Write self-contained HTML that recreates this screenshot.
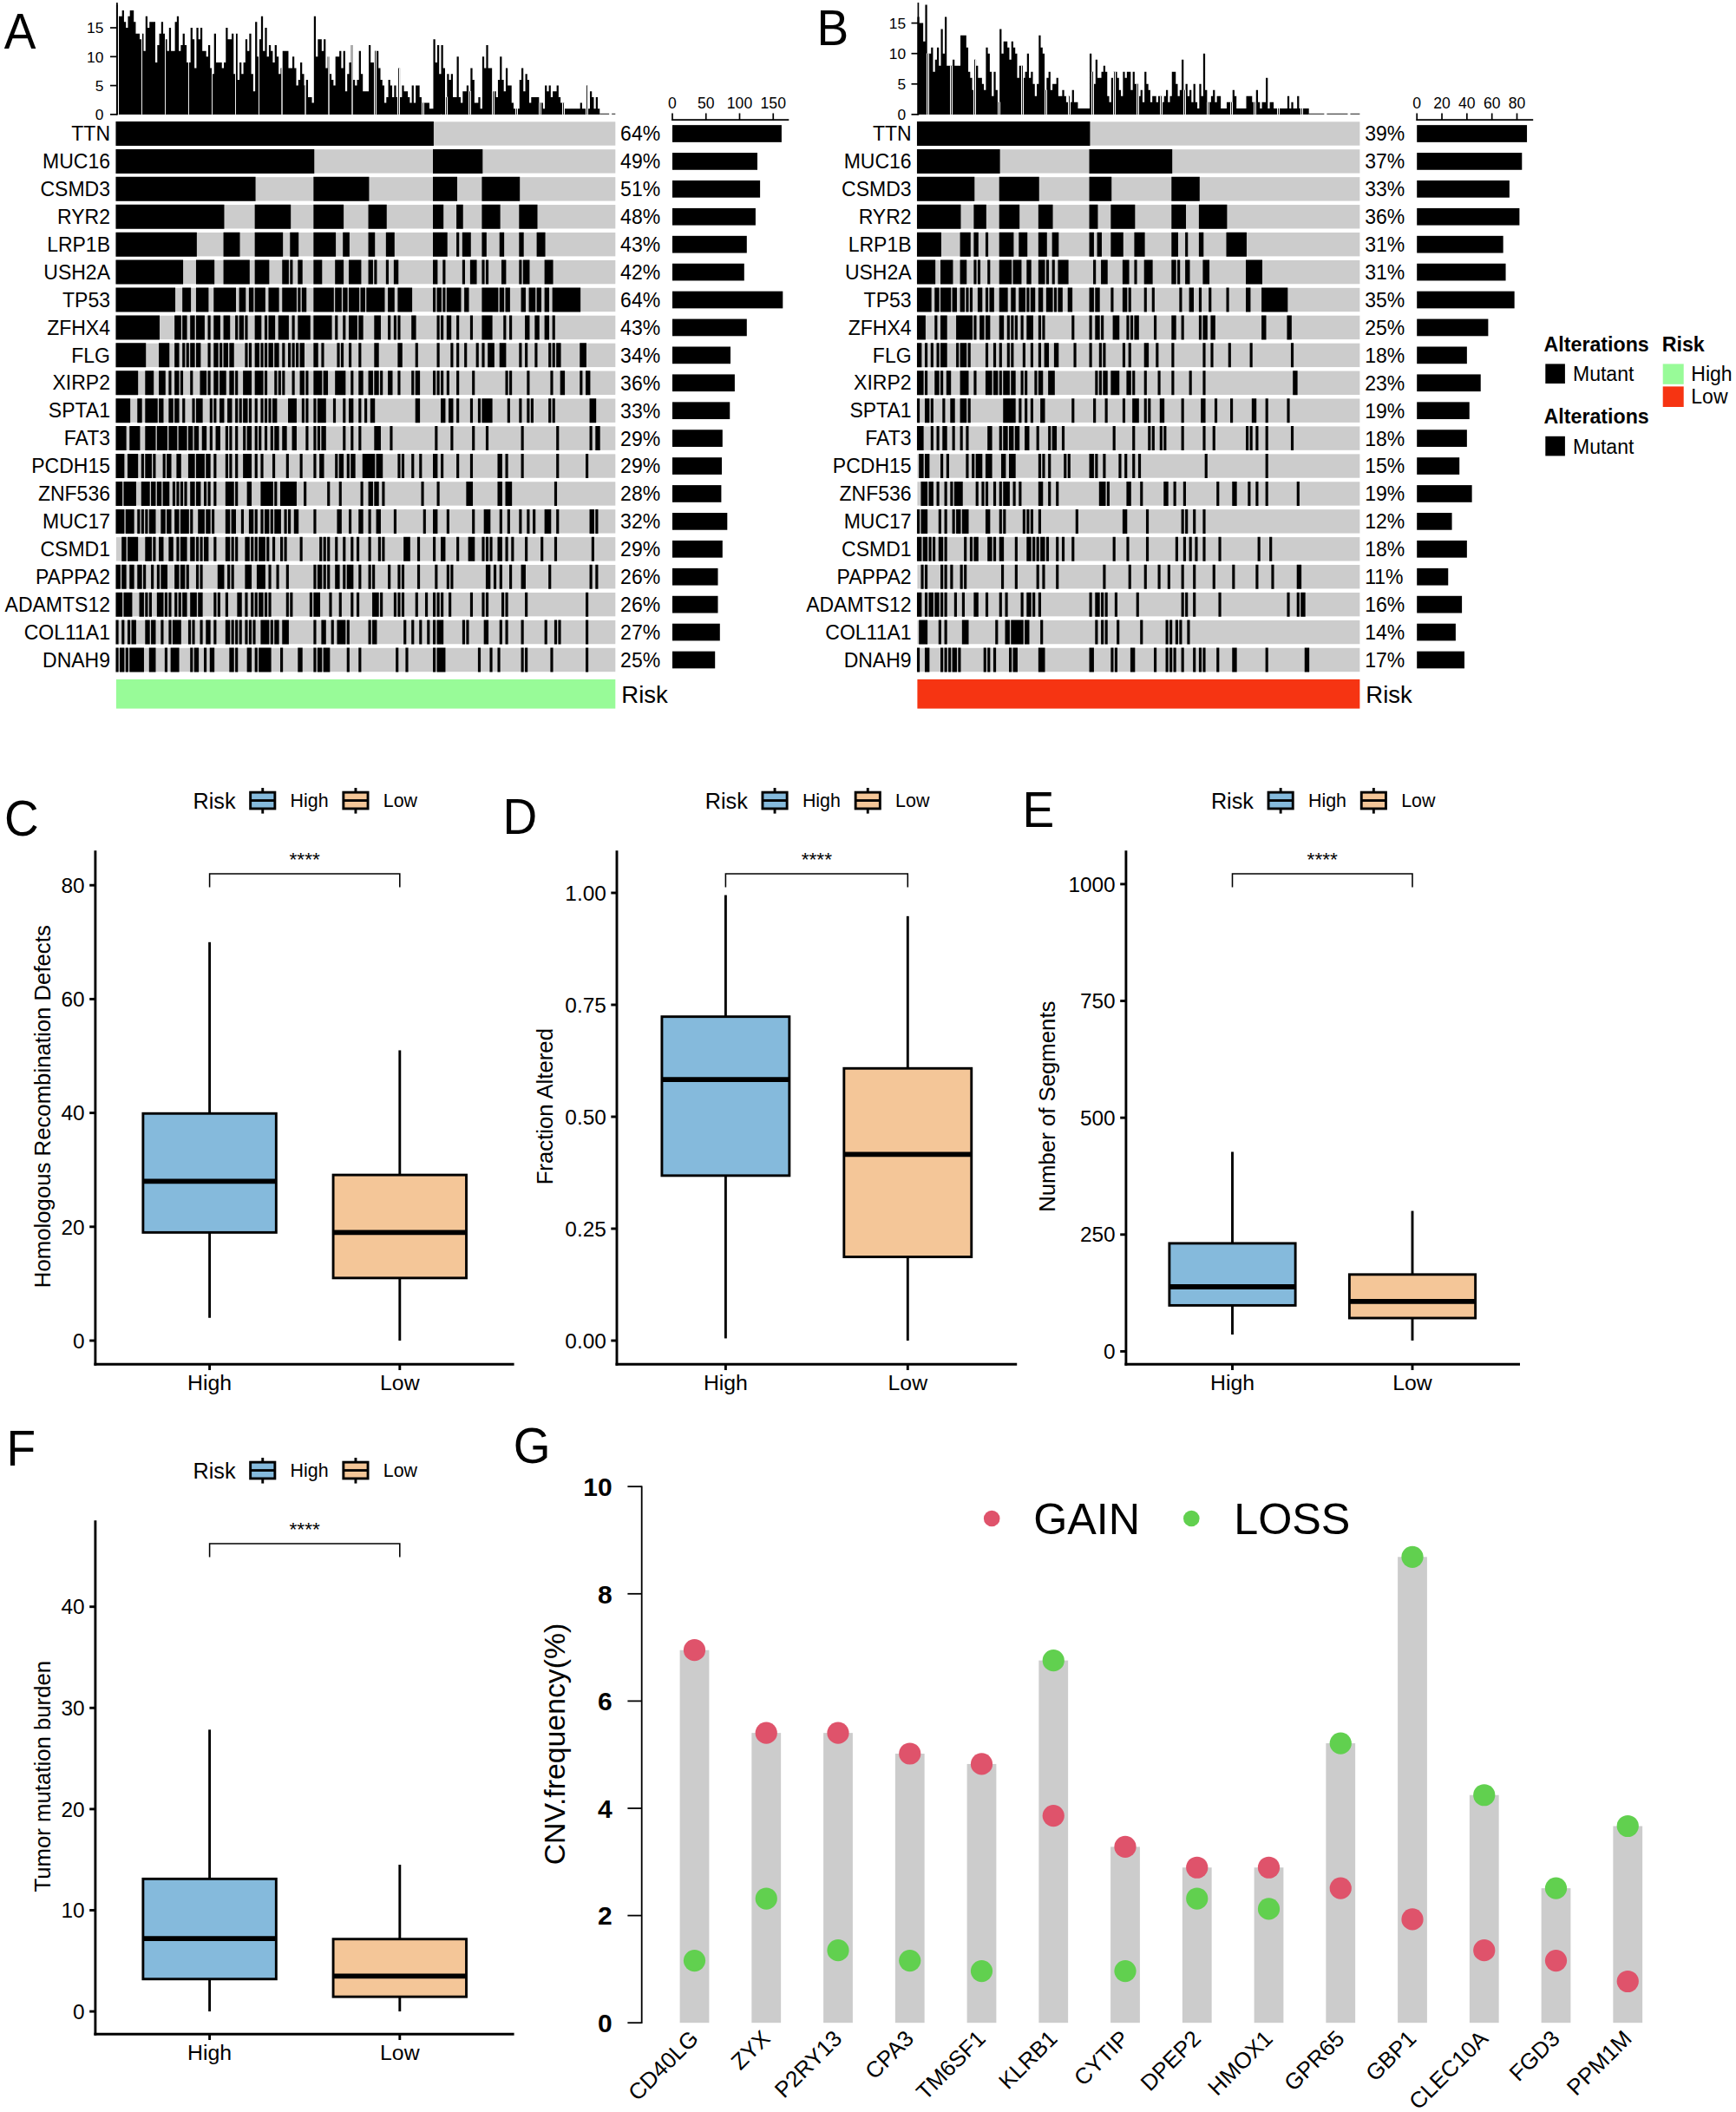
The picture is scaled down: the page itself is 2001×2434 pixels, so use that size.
<!DOCTYPE html>
<html><head><meta charset="utf-8"><title>Figure</title>
<style>html,body{margin:0;padding:0;background:#fff}svg{display:block}text{font-family:"Liberation Sans", Arial, sans-serif;fill:#000}</style>
</head><body>
<svg width="2001" height="2434" viewBox="0 0 2001 2434">
<rect width="2001" height="2434" fill="#fff"/>
<text transform="translate(4.70 56.20) scale(0.965 1)" font-size="57">A</text>
<g>
<rect x="133.90" y="140.30" width="575.41" height="27.40" fill="#cccccc"/>
<path d="M133.45 140.00h366.45v28.0h-366.45z" fill="#000"/>
<text x="127.00" y="162.20" font-size="23" text-anchor="end">TTN</text>
<text x="715.11" y="162.40" font-size="23">64%</text>
<rect x="775.00" y="144.15" width="125.90" height="19.70" fill="#000"/>
<rect x="133.90" y="172.22" width="575.41" height="27.40" fill="#cccccc"/>
<path d="M133.45 171.92h228.81v28.0h-228.81zM499.00 171.92h57.31v28.0h-57.31z" fill="#000"/>
<text x="127.00" y="194.12" font-size="23" text-anchor="end">MUC16</text>
<text x="715.11" y="194.32" font-size="23">49%</text>
<rect x="775.00" y="176.07" width="98.00" height="19.70" fill="#000"/>
<rect x="133.90" y="204.14" width="575.41" height="27.40" fill="#cccccc"/>
<path d="M133.45 203.84h161.11v28.0h-161.11zM361.36 203.84h64.08v28.0h-64.08zM499.00 203.84h27.98v28.0h-27.98zM555.42 203.84h43.77v28.0h-43.77z" fill="#000"/>
<text x="127.00" y="226.04" font-size="23" text-anchor="end">CSMD3</text>
<text x="715.11" y="226.24" font-size="23">51%</text>
<rect x="775.00" y="207.99" width="101.10" height="19.70" fill="#000"/>
<rect x="133.90" y="236.06" width="575.41" height="27.40" fill="#cccccc"/>
<path d="M133.45 235.76h125.01v28.0h-125.01zM293.66 235.76h41.52v28.0h-41.52zM361.36 235.76h34.75v28.0h-34.75zM424.54 235.76h21.21v28.0h-21.21zM499.00 235.76h12.18v28.0h-12.18zM526.08 235.76h7.67v28.0h-7.67zM555.42 235.76h21.21v28.0h-21.21zM598.29 235.76h21.21v28.0h-21.21z" fill="#000"/>
<text x="127.00" y="257.96" font-size="23" text-anchor="end">RYR2</text>
<text x="715.11" y="258.16" font-size="23">48%</text>
<rect x="775.00" y="239.91" width="95.90" height="19.70" fill="#000"/>
<rect x="133.90" y="267.98" width="575.41" height="27.40" fill="#cccccc"/>
<path d="M133.45 267.68h93.42v28.0h-93.42zM257.56 267.68h18.95v28.0h-18.95zM293.66 267.68h32.49v28.0h-32.49zM334.28 267.68h9.93v28.0h-9.93zM361.36 267.68h25.72v28.0h-25.72zM395.20 267.68h7.67v28.0h-7.67zM424.54 267.68h7.67v28.0h-7.67zM444.85 267.68h9.93v28.0h-9.93zM499.00 267.68h16.70v28.0h-16.70zM526.08 267.68h3.16v28.0h-3.16zM532.85 267.68h9.93v28.0h-9.93zM555.42 267.68h5.41v28.0h-5.41zM575.72 267.68h5.41v28.0h-5.41zM598.29 267.68h5.41v28.0h-5.41zM618.60 267.68h9.93v28.0h-9.93z" fill="#000"/>
<text x="127.00" y="289.88" font-size="23" text-anchor="end">LRP1B</text>
<text x="715.11" y="290.08" font-size="23">43%</text>
<rect x="775.00" y="271.83" width="85.80" height="19.70" fill="#000"/>
<rect x="133.90" y="299.90" width="575.41" height="27.40" fill="#cccccc"/>
<path d="M133.45 299.60h77.62v28.0h-77.62zM225.97 299.60h21.21v28.0h-21.21zM257.56 299.60h30.23v28.0h-30.23zM293.66 299.60h16.70v28.0h-16.70zM325.25 299.60h7.67v28.0h-7.67zM334.28 299.60h3.16v28.0h-3.16zM343.30 299.60h5.41v28.0h-5.41zM361.36 299.60h9.93v28.0h-9.93zM386.18 299.60h9.93v28.0h-9.93zM401.97 299.60h14.44v28.0h-14.44zM424.54 299.60h5.41v28.0h-5.41zM431.31 299.60h3.16v28.0h-3.16zM444.85 299.60h3.16v28.0h-3.16zM453.87 299.60h5.41v28.0h-5.41zM499.00 299.60h5.41v28.0h-5.41zM510.29 299.60h3.16v28.0h-3.16zM532.85 299.60h3.16v28.0h-3.16zM541.88 299.60h7.67v28.0h-7.67zM555.42 299.60h3.16v28.0h-3.16zM559.93 299.60h3.16v28.0h-3.16zM577.98 299.60h5.41v28.0h-5.41zM598.29 299.60h3.16v28.0h-3.16zM602.80 299.60h7.67v28.0h-7.67zM627.62 299.60h9.93v28.0h-9.93z" fill="#000"/>
<text x="127.00" y="321.80" font-size="23" text-anchor="end">USH2A</text>
<text x="715.11" y="322.00" font-size="23">42%</text>
<rect x="775.00" y="303.75" width="82.80" height="19.70" fill="#000"/>
<rect x="133.90" y="331.82" width="575.41" height="27.40" fill="#cccccc"/>
<path d="M133.45 331.52h68.59v28.0h-68.59zM210.17 331.52h9.93v28.0h-9.93zM225.97 331.52h14.44v28.0h-14.44zM246.28 331.52h25.72v28.0h-25.72zM275.61 331.52h7.67v28.0h-7.67zM286.89 331.52h5.41v28.0h-5.41zM293.66 331.52h12.18v28.0h-12.18zM309.46 331.52h12.18v28.0h-12.18zM325.25 331.52h16.70v28.0h-16.70zM343.30 331.52h3.16v28.0h-3.16zM347.82 331.52h5.41v28.0h-5.41zM361.36 331.52h23.46v28.0h-23.46zM386.18 331.52h7.67v28.0h-7.67zM395.20 331.52h5.41v28.0h-5.41zM401.97 331.52h12.18v28.0h-12.18zM415.51 331.52h5.41v28.0h-5.41zM422.28 331.52h21.21v28.0h-21.21zM447.10 331.52h7.67v28.0h-7.67zM458.39 331.52h16.70v28.0h-16.70zM499.00 331.52h3.16v28.0h-3.16zM503.52 331.52h5.41v28.0h-5.41zM510.29 331.52h3.16v28.0h-3.16zM514.80 331.52h16.70v28.0h-16.70zM535.11 331.52h5.41v28.0h-5.41zM555.42 331.52h18.95v28.0h-18.95zM575.72 331.52h5.41v28.0h-5.41zM582.49 331.52h5.41v28.0h-5.41zM600.55 331.52h5.41v28.0h-5.41zM609.57 331.52h7.67v28.0h-7.67zM618.60 331.52h5.41v28.0h-5.41zM627.62 331.52h5.41v28.0h-5.41zM636.65 331.52h32.49v28.0h-32.49z" fill="#000"/>
<text x="127.00" y="353.72" font-size="23" text-anchor="end">TP53</text>
<text x="715.11" y="353.92" font-size="23">64%</text>
<rect x="775.00" y="335.67" width="127.30" height="19.70" fill="#000"/>
<rect x="133.90" y="363.74" width="575.41" height="27.40" fill="#cccccc"/>
<path d="M133.45 363.44h50.54v28.0h-50.54zM201.15 363.44h7.67v28.0h-7.67zM210.17 363.44h5.41v28.0h-5.41zM219.20 363.44h5.41v28.0h-5.41zM225.97 363.44h9.93v28.0h-9.93zM239.51 363.44h3.16v28.0h-3.16zM246.28 363.44h7.67v28.0h-7.67zM257.56 363.44h7.67v28.0h-7.67zM271.10 363.44h3.16v28.0h-3.16zM275.61 363.44h5.41v28.0h-5.41zM282.38 363.44h3.16v28.0h-3.16zM293.66 363.44h7.67v28.0h-7.67zM304.94 363.44h3.16v28.0h-3.16zM309.46 363.44h7.67v28.0h-7.67zM320.74 363.44h12.18v28.0h-12.18zM336.54 363.44h3.16v28.0h-3.16zM343.30 363.44h14.44v28.0h-14.44zM361.36 363.44h21.21v28.0h-21.21zM386.18 363.44h3.16v28.0h-3.16zM395.20 363.44h3.16v28.0h-3.16zM401.97 363.44h9.93v28.0h-9.93zM413.26 363.44h5.41v28.0h-5.41zM431.31 363.44h7.67v28.0h-7.67zM447.10 363.44h3.16v28.0h-3.16zM453.87 363.44h3.16v28.0h-3.16zM458.39 363.44h3.16v28.0h-3.16zM474.18 363.44h5.41v28.0h-5.41zM503.52 363.44h3.16v28.0h-3.16zM508.03 363.44h3.16v28.0h-3.16zM514.80 363.44h5.41v28.0h-5.41zM526.08 363.44h3.16v28.0h-3.16zM541.88 363.44h3.16v28.0h-3.16zM555.42 363.44h12.18v28.0h-12.18zM580.24 363.44h3.16v28.0h-3.16zM587.01 363.44h3.16v28.0h-3.16zM605.06 363.44h5.41v28.0h-5.41zM616.34 363.44h5.41v28.0h-5.41zM627.62 363.44h5.41v28.0h-5.41zM636.65 363.44h3.16v28.0h-3.16z" fill="#000"/>
<text x="127.00" y="385.64" font-size="23" text-anchor="end">ZFHX4</text>
<text x="715.11" y="385.84" font-size="23">43%</text>
<rect x="775.00" y="367.59" width="85.80" height="19.70" fill="#000"/>
<rect x="133.90" y="395.66" width="575.41" height="27.40" fill="#cccccc"/>
<path d="M133.45 395.36h34.75v28.0h-34.75zM183.09 395.36h12.18v28.0h-12.18zM201.15 395.36h5.41v28.0h-5.41zM210.17 395.36h3.16v28.0h-3.16zM214.68 395.36h3.16v28.0h-3.16zM219.20 395.36h5.41v28.0h-5.41zM225.97 395.36h5.41v28.0h-5.41zM239.51 395.36h3.16v28.0h-3.16zM246.28 395.36h5.41v28.0h-5.41zM253.04 395.36h3.16v28.0h-3.16zM257.56 395.36h5.41v28.0h-5.41zM264.33 395.36h5.41v28.0h-5.41zM282.38 395.36h3.16v28.0h-3.16zM286.89 395.36h3.16v28.0h-3.16zM293.66 395.36h5.41v28.0h-5.41zM300.43 395.36h3.16v28.0h-3.16zM304.94 395.36h3.16v28.0h-3.16zM309.46 395.36h5.41v28.0h-5.41zM316.23 395.36h5.41v28.0h-5.41zM325.25 395.36h3.16v28.0h-3.16zM332.02 395.36h3.16v28.0h-3.16zM336.54 395.36h3.16v28.0h-3.16zM341.05 395.36h3.16v28.0h-3.16zM345.56 395.36h5.41v28.0h-5.41zM361.36 395.36h5.41v28.0h-5.41zM370.38 395.36h3.16v28.0h-3.16zM388.43 395.36h3.16v28.0h-3.16zM392.95 395.36h3.16v28.0h-3.16zM401.97 395.36h3.16v28.0h-3.16zM413.26 395.36h3.16v28.0h-3.16zM431.31 395.36h5.41v28.0h-5.41zM458.39 395.36h5.41v28.0h-5.41zM478.69 395.36h3.16v28.0h-3.16zM503.52 395.36h3.16v28.0h-3.16zM519.31 395.36h3.16v28.0h-3.16zM526.08 395.36h3.16v28.0h-3.16zM535.11 395.36h3.16v28.0h-3.16zM548.65 395.36h3.16v28.0h-3.16zM555.42 395.36h3.16v28.0h-3.16zM562.18 395.36h7.67v28.0h-7.67zM575.72 395.36h7.67v28.0h-7.67zM598.29 395.36h3.16v28.0h-3.16zM605.06 395.36h3.16v28.0h-3.16zM616.34 395.36h3.16v28.0h-3.16zM632.14 395.36h3.16v28.0h-3.16zM636.65 395.36h3.16v28.0h-3.16zM641.16 395.36h5.41v28.0h-5.41zM668.24 395.36h7.67v28.0h-7.67z" fill="#000"/>
<text x="127.00" y="417.56" font-size="23" text-anchor="end">FLG</text>
<text x="715.11" y="417.76" font-size="23">34%</text>
<rect x="775.00" y="399.51" width="67.00" height="19.70" fill="#000"/>
<rect x="133.90" y="427.58" width="575.41" height="27.40" fill="#cccccc"/>
<path d="M133.45 427.28h25.72v28.0h-25.72zM167.30 427.28h9.93v28.0h-9.93zM183.09 427.28h7.67v28.0h-7.67zM194.38 427.28h3.16v28.0h-3.16zM201.15 427.28h5.41v28.0h-5.41zM207.91 427.28h3.16v28.0h-3.16zM219.20 427.28h3.16v28.0h-3.16zM230.48 427.28h7.67v28.0h-7.67zM239.51 427.28h3.16v28.0h-3.16zM246.28 427.28h5.41v28.0h-5.41zM253.04 427.28h7.67v28.0h-7.67zM264.33 427.28h5.41v28.0h-5.41zM271.10 427.28h3.16v28.0h-3.16zM280.12 427.28h9.93v28.0h-9.93zM293.66 427.28h9.93v28.0h-9.93zM304.94 427.28h3.16v28.0h-3.16zM316.23 427.28h3.16v28.0h-3.16zM320.74 427.28h3.16v28.0h-3.16zM325.25 427.28h3.16v28.0h-3.16zM336.54 427.28h3.16v28.0h-3.16zM345.56 427.28h5.41v28.0h-5.41zM352.33 427.28h3.16v28.0h-3.16zM361.36 427.28h9.93v28.0h-9.93zM372.64 427.28h5.41v28.0h-5.41zM386.18 427.28h12.18v28.0h-12.18zM404.23 427.28h3.16v28.0h-3.16zM413.26 427.28h5.41v28.0h-5.41zM424.54 427.28h5.41v28.0h-5.41zM431.31 427.28h5.41v28.0h-5.41zM438.08 427.28h3.16v28.0h-3.16zM447.10 427.28h5.41v28.0h-5.41zM458.39 427.28h3.16v28.0h-3.16zM474.18 427.28h3.16v28.0h-3.16zM478.69 427.28h5.41v28.0h-5.41zM499.00 427.28h3.16v28.0h-3.16zM503.52 427.28h3.16v28.0h-3.16zM508.03 427.28h3.16v28.0h-3.16zM514.80 427.28h3.16v28.0h-3.16zM526.08 427.28h3.16v28.0h-3.16zM544.13 427.28h3.16v28.0h-3.16zM582.49 427.28h3.16v28.0h-3.16zM587.01 427.28h3.16v28.0h-3.16zM607.31 427.28h3.16v28.0h-3.16zM634.39 427.28h3.16v28.0h-3.16zM645.68 427.28h5.41v28.0h-5.41zM668.24 427.28h3.16v28.0h-3.16zM675.01 427.28h5.41v28.0h-5.41z" fill="#000"/>
<text x="127.00" y="449.48" font-size="23" text-anchor="end">XIRP2</text>
<text x="715.11" y="449.68" font-size="23">36%</text>
<rect x="775.00" y="431.43" width="71.90" height="19.70" fill="#000"/>
<rect x="133.90" y="459.50" width="575.41" height="27.40" fill="#cccccc"/>
<path d="M133.45 459.20h16.70v28.0h-16.70zM158.27 459.20h5.41v28.0h-5.41zM167.30 459.20h14.44v28.0h-14.44zM183.09 459.20h5.41v28.0h-5.41zM194.38 459.20h5.41v28.0h-5.41zM201.15 459.20h5.41v28.0h-5.41zM210.17 459.20h3.16v28.0h-3.16zM221.45 459.20h3.16v28.0h-3.16zM225.97 459.20h7.67v28.0h-7.67zM241.76 459.20h3.16v28.0h-3.16zM246.28 459.20h3.16v28.0h-3.16zM253.04 459.20h5.41v28.0h-5.41zM262.07 459.20h5.41v28.0h-5.41zM271.10 459.20h3.16v28.0h-3.16zM275.61 459.20h3.16v28.0h-3.16zM280.12 459.20h5.41v28.0h-5.41zM286.89 459.20h3.16v28.0h-3.16zM293.66 459.20h3.16v28.0h-3.16zM300.43 459.20h3.16v28.0h-3.16zM304.94 459.20h3.16v28.0h-3.16zM309.46 459.20h3.16v28.0h-3.16zM313.97 459.20h5.41v28.0h-5.41zM332.02 459.20h9.93v28.0h-9.93zM347.82 459.20h3.16v28.0h-3.16zM352.33 459.20h3.16v28.0h-3.16zM361.36 459.20h3.16v28.0h-3.16zM365.87 459.20h9.93v28.0h-9.93zM383.92 459.20h3.16v28.0h-3.16zM395.20 459.20h3.16v28.0h-3.16zM401.97 459.20h5.41v28.0h-5.41zM413.26 459.20h3.16v28.0h-3.16zM420.03 459.20h3.16v28.0h-3.16zM426.80 459.20h5.41v28.0h-5.41zM478.69 459.20h5.41v28.0h-5.41zM508.03 459.20h5.41v28.0h-5.41zM517.05 459.20h5.41v28.0h-5.41zM526.08 459.20h3.16v28.0h-3.16zM541.88 459.20h3.16v28.0h-3.16zM550.90 459.20h3.16v28.0h-3.16zM555.42 459.20h12.18v28.0h-12.18zM584.75 459.20h3.16v28.0h-3.16zM598.29 459.20h3.16v28.0h-3.16zM607.31 459.20h3.16v28.0h-3.16zM611.83 459.20h3.16v28.0h-3.16zM632.14 459.20h3.16v28.0h-3.16zM636.65 459.20h3.16v28.0h-3.16zM679.52 459.20h7.67v28.0h-7.67z" fill="#000"/>
<text x="127.00" y="481.40" font-size="23" text-anchor="end">SPTA1</text>
<text x="715.11" y="481.60" font-size="23">33%</text>
<rect x="775.00" y="463.35" width="66.25" height="19.70" fill="#000"/>
<rect x="133.90" y="491.42" width="575.41" height="27.40" fill="#cccccc"/>
<path d="M133.45 491.12h12.18v28.0h-12.18zM149.25 491.12h12.18v28.0h-12.18zM167.30 491.12h12.18v28.0h-12.18zM180.84 491.12h12.18v28.0h-12.18zM194.38 491.12h9.93v28.0h-9.93zM205.66 491.12h9.93v28.0h-9.93zM216.94 491.12h5.41v28.0h-5.41zM223.71 491.12h5.41v28.0h-5.41zM232.74 491.12h5.41v28.0h-5.41zM241.76 491.12h3.16v28.0h-3.16zM248.53 491.12h5.41v28.0h-5.41zM259.81 491.12h3.16v28.0h-3.16zM264.33 491.12h3.16v28.0h-3.16zM271.10 491.12h3.16v28.0h-3.16zM280.12 491.12h3.16v28.0h-3.16zM284.64 491.12h5.41v28.0h-5.41zM293.66 491.12h3.16v28.0h-3.16zM298.17 491.12h3.16v28.0h-3.16zM304.94 491.12h3.16v28.0h-3.16zM311.71 491.12h3.16v28.0h-3.16zM316.23 491.12h5.41v28.0h-5.41zM325.25 491.12h5.41v28.0h-5.41zM336.54 491.12h5.41v28.0h-5.41zM352.33 491.12h3.16v28.0h-3.16zM361.36 491.12h3.16v28.0h-3.16zM365.87 491.12h3.16v28.0h-3.16zM370.38 491.12h5.41v28.0h-5.41zM395.20 491.12h3.16v28.0h-3.16zM404.23 491.12h3.16v28.0h-3.16zM413.26 491.12h3.16v28.0h-3.16zM431.31 491.12h7.67v28.0h-7.67zM449.36 491.12h3.16v28.0h-3.16zM501.26 491.12h3.16v28.0h-3.16zM519.31 491.12h3.16v28.0h-3.16zM544.13 491.12h3.16v28.0h-3.16zM559.93 491.12h3.16v28.0h-3.16zM600.55 491.12h3.16v28.0h-3.16zM641.16 491.12h3.16v28.0h-3.16zM679.52 491.12h3.16v28.0h-3.16zM686.29 491.12h5.41v28.0h-5.41z" fill="#000"/>
<text x="127.00" y="513.32" font-size="23" text-anchor="end">FAT3</text>
<text x="715.11" y="513.52" font-size="23">29%</text>
<rect x="775.00" y="495.27" width="57.80" height="19.70" fill="#000"/>
<rect x="133.90" y="523.34" width="575.41" height="27.40" fill="#cccccc"/>
<path d="M133.45 523.04h9.93v28.0h-9.93zM146.99 523.04h12.18v28.0h-12.18zM162.78 523.04h3.16v28.0h-3.16zM167.30 523.04h7.67v28.0h-7.67zM176.32 523.04h3.16v28.0h-3.16zM187.61 523.04h3.16v28.0h-3.16zM192.12 523.04h5.41v28.0h-5.41zM203.40 523.04h5.41v28.0h-5.41zM216.94 523.04h7.67v28.0h-7.67zM225.97 523.04h9.93v28.0h-9.93zM237.25 523.04h5.41v28.0h-5.41zM246.28 523.04h3.16v28.0h-3.16zM259.81 523.04h3.16v28.0h-3.16zM264.33 523.04h3.16v28.0h-3.16zM271.10 523.04h3.16v28.0h-3.16zM280.12 523.04h9.93v28.0h-9.93zM293.66 523.04h3.16v28.0h-3.16zM300.43 523.04h3.16v28.0h-3.16zM313.97 523.04h3.16v28.0h-3.16zM329.77 523.04h3.16v28.0h-3.16zM345.56 523.04h3.16v28.0h-3.16zM361.36 523.04h3.16v28.0h-3.16zM368.13 523.04h5.41v28.0h-5.41zM386.18 523.04h3.16v28.0h-3.16zM390.69 523.04h5.41v28.0h-5.41zM399.72 523.04h3.16v28.0h-3.16zM404.23 523.04h5.41v28.0h-5.41zM417.77 523.04h14.44v28.0h-14.44zM433.56 523.04h7.67v28.0h-7.67zM458.39 523.04h3.16v28.0h-3.16zM462.90 523.04h3.16v28.0h-3.16zM474.18 523.04h3.16v28.0h-3.16zM483.21 523.04h3.16v28.0h-3.16zM499.00 523.04h5.41v28.0h-5.41zM508.03 523.04h3.16v28.0h-3.16zM526.08 523.04h3.16v28.0h-3.16zM541.88 523.04h3.16v28.0h-3.16zM573.47 523.04h5.41v28.0h-5.41zM582.49 523.04h3.16v28.0h-3.16zM600.55 523.04h3.16v28.0h-3.16zM641.16 523.04h3.16v28.0h-3.16zM675.01 523.04h3.16v28.0h-3.16z" fill="#000"/>
<text x="127.00" y="545.24" font-size="23" text-anchor="end">PCDH15</text>
<text x="715.11" y="545.44" font-size="23">29%</text>
<rect x="775.00" y="527.19" width="57.00" height="19.70" fill="#000"/>
<rect x="133.90" y="555.26" width="575.41" height="27.40" fill="#cccccc"/>
<path d="M133.45 554.96h7.67v28.0h-7.67zM142.48 554.96h14.44v28.0h-14.44zM162.78 554.96h9.93v28.0h-9.93zM174.07 554.96h5.41v28.0h-5.41zM180.84 554.96h5.41v28.0h-5.41zM187.61 554.96h7.67v28.0h-7.67zM198.89 554.96h3.16v28.0h-3.16zM203.40 554.96h3.16v28.0h-3.16zM207.91 554.96h3.16v28.0h-3.16zM212.43 554.96h3.16v28.0h-3.16zM219.20 554.96h5.41v28.0h-5.41zM225.97 554.96h5.41v28.0h-5.41zM234.99 554.96h3.16v28.0h-3.16zM239.51 554.96h3.16v28.0h-3.16zM246.28 554.96h3.16v28.0h-3.16zM259.81 554.96h9.93v28.0h-9.93zM271.10 554.96h3.16v28.0h-3.16zM284.64 554.96h5.41v28.0h-5.41zM300.43 554.96h14.44v28.0h-14.44zM316.23 554.96h3.16v28.0h-3.16zM323.00 554.96h18.95v28.0h-18.95zM350.07 554.96h3.16v28.0h-3.16zM377.15 554.96h3.16v28.0h-3.16zM390.69 554.96h3.16v28.0h-3.16zM415.51 554.96h3.16v28.0h-3.16zM424.54 554.96h5.41v28.0h-5.41zM431.31 554.96h5.41v28.0h-5.41zM440.33 554.96h3.16v28.0h-3.16zM485.46 554.96h3.16v28.0h-3.16zM503.52 554.96h3.16v28.0h-3.16zM537.36 554.96h7.67v28.0h-7.67zM573.47 554.96h5.41v28.0h-5.41zM582.49 554.96h7.67v28.0h-7.67zM638.91 554.96h3.16v28.0h-3.16z" fill="#000"/>
<text x="127.00" y="577.16" font-size="23" text-anchor="end">ZNF536</text>
<text x="715.11" y="577.36" font-size="23">28%</text>
<rect x="775.00" y="559.11" width="56.40" height="19.70" fill="#000"/>
<rect x="133.90" y="587.18" width="575.41" height="27.40" fill="#cccccc"/>
<path d="M133.45 586.88h9.93v28.0h-9.93zM144.73 586.88h9.93v28.0h-9.93zM158.27 586.88h3.16v28.0h-3.16zM162.78 586.88h3.16v28.0h-3.16zM167.30 586.88h3.16v28.0h-3.16zM171.81 586.88h7.67v28.0h-7.67zM185.35 586.88h5.41v28.0h-5.41zM192.12 586.88h5.41v28.0h-5.41zM201.15 586.88h5.41v28.0h-5.41zM207.91 586.88h9.93v28.0h-9.93zM219.20 586.88h3.16v28.0h-3.16zM228.22 586.88h7.67v28.0h-7.67zM237.25 586.88h5.41v28.0h-5.41zM244.02 586.88h3.16v28.0h-3.16zM259.81 586.88h5.41v28.0h-5.41zM266.58 586.88h5.41v28.0h-5.41zM277.87 586.88h3.16v28.0h-3.16zM286.89 586.88h5.41v28.0h-5.41zM293.66 586.88h3.16v28.0h-3.16zM300.43 586.88h3.16v28.0h-3.16zM304.94 586.88h5.41v28.0h-5.41zM311.71 586.88h3.16v28.0h-3.16zM316.23 586.88h7.67v28.0h-7.67zM327.51 586.88h3.16v28.0h-3.16zM332.02 586.88h3.16v28.0h-3.16zM338.79 586.88h5.41v28.0h-5.41zM361.36 586.88h3.16v28.0h-3.16zM388.43 586.88h5.41v28.0h-5.41zM401.97 586.88h3.16v28.0h-3.16zM413.26 586.88h5.41v28.0h-5.41zM424.54 586.88h3.16v28.0h-3.16zM433.56 586.88h5.41v28.0h-5.41zM453.87 586.88h3.16v28.0h-3.16zM487.72 586.88h3.16v28.0h-3.16zM499.00 586.88h5.41v28.0h-5.41zM514.80 586.88h3.16v28.0h-3.16zM544.13 586.88h3.16v28.0h-3.16zM557.67 586.88h7.67v28.0h-7.67zM575.72 586.88h3.16v28.0h-3.16zM584.75 586.88h3.16v28.0h-3.16zM598.29 586.88h3.16v28.0h-3.16zM607.31 586.88h3.16v28.0h-3.16zM614.08 586.88h3.16v28.0h-3.16zM627.62 586.88h7.67v28.0h-7.67zM641.16 586.88h3.16v28.0h-3.16zM679.52 586.88h5.41v28.0h-5.41zM686.29 586.88h3.16v28.0h-3.16z" fill="#000"/>
<text x="127.00" y="609.08" font-size="23" text-anchor="end">MUC17</text>
<text x="715.11" y="609.28" font-size="23">32%</text>
<rect x="775.00" y="591.03" width="63.30" height="19.70" fill="#000"/>
<rect x="133.90" y="619.10" width="575.41" height="27.40" fill="#cccccc"/>
<path d="M140.22 618.80h5.41v28.0h-5.41zM146.99 618.80h12.18v28.0h-12.18zM167.30 618.80h7.67v28.0h-7.67zM176.32 618.80h3.16v28.0h-3.16zM183.09 618.80h5.41v28.0h-5.41zM194.38 618.80h5.41v28.0h-5.41zM203.40 618.80h3.16v28.0h-3.16zM207.91 618.80h7.67v28.0h-7.67zM219.20 618.80h5.41v28.0h-5.41zM225.97 618.80h3.16v28.0h-3.16zM230.48 618.80h3.16v28.0h-3.16zM234.99 618.80h5.41v28.0h-5.41zM246.28 618.80h3.16v28.0h-3.16zM259.81 618.80h5.41v28.0h-5.41zM266.58 618.80h3.16v28.0h-3.16zM271.10 618.80h3.16v28.0h-3.16zM282.38 618.80h5.41v28.0h-5.41zM289.15 618.80h3.16v28.0h-3.16zM293.66 618.80h3.16v28.0h-3.16zM298.17 618.80h7.67v28.0h-7.67zM307.20 618.80h3.16v28.0h-3.16zM313.97 618.80h3.16v28.0h-3.16zM323.00 618.80h3.16v28.0h-3.16zM327.51 618.80h3.16v28.0h-3.16zM345.56 618.80h3.16v28.0h-3.16zM368.13 618.80h3.16v28.0h-3.16zM372.64 618.80h3.16v28.0h-3.16zM377.15 618.80h3.16v28.0h-3.16zM386.18 618.80h3.16v28.0h-3.16zM395.20 618.80h3.16v28.0h-3.16zM404.23 618.80h3.16v28.0h-3.16zM411.00 618.80h3.16v28.0h-3.16zM424.54 618.80h3.16v28.0h-3.16zM435.82 618.80h3.16v28.0h-3.16zM440.33 618.80h3.16v28.0h-3.16zM465.16 618.80h7.67v28.0h-7.67zM480.95 618.80h3.16v28.0h-3.16zM499.00 618.80h3.16v28.0h-3.16zM508.03 618.80h5.41v28.0h-5.41zM526.08 618.80h3.16v28.0h-3.16zM539.62 618.80h7.67v28.0h-7.67zM555.42 618.80h3.16v28.0h-3.16zM559.93 618.80h3.16v28.0h-3.16zM564.44 618.80h3.16v28.0h-3.16zM573.47 618.80h5.41v28.0h-5.41zM582.49 618.80h3.16v28.0h-3.16zM589.26 618.80h3.16v28.0h-3.16zM605.06 618.80h3.16v28.0h-3.16zM623.11 618.80h3.16v28.0h-3.16zM638.91 618.80h3.16v28.0h-3.16zM681.78 618.80h3.16v28.0h-3.16z" fill="#000"/>
<text x="127.00" y="641.00" font-size="23" text-anchor="end">CSMD1</text>
<text x="715.11" y="641.20" font-size="23">29%</text>
<rect x="775.00" y="622.95" width="57.80" height="19.70" fill="#000"/>
<rect x="133.90" y="651.02" width="575.41" height="27.40" fill="#cccccc"/>
<path d="M133.45 650.72h5.41v28.0h-5.41zM140.22 650.72h5.41v28.0h-5.41zM149.25 650.72h5.41v28.0h-5.41zM158.27 650.72h5.41v28.0h-5.41zM165.04 650.72h3.16v28.0h-3.16zM174.07 650.72h3.16v28.0h-3.16zM180.84 650.72h3.16v28.0h-3.16zM185.35 650.72h7.67v28.0h-7.67zM201.15 650.72h5.41v28.0h-5.41zM207.91 650.72h5.41v28.0h-5.41zM214.68 650.72h3.16v28.0h-3.16zM225.97 650.72h3.16v28.0h-3.16zM230.48 650.72h3.16v28.0h-3.16zM250.79 650.72h7.67v28.0h-7.67zM262.07 650.72h3.16v28.0h-3.16zM266.58 650.72h3.16v28.0h-3.16zM282.38 650.72h7.67v28.0h-7.67zM295.92 650.72h9.93v28.0h-9.93zM309.46 650.72h3.16v28.0h-3.16zM318.48 650.72h3.16v28.0h-3.16zM329.77 650.72h3.16v28.0h-3.16zM361.36 650.72h3.16v28.0h-3.16zM365.87 650.72h5.41v28.0h-5.41zM372.64 650.72h3.16v28.0h-3.16zM377.15 650.72h3.16v28.0h-3.16zM386.18 650.72h5.41v28.0h-5.41zM395.20 650.72h3.16v28.0h-3.16zM399.72 650.72h7.67v28.0h-7.67zM413.26 650.72h3.16v28.0h-3.16zM424.54 650.72h3.16v28.0h-3.16zM429.05 650.72h3.16v28.0h-3.16zM447.10 650.72h3.16v28.0h-3.16zM458.39 650.72h3.16v28.0h-3.16zM462.90 650.72h3.16v28.0h-3.16zM480.95 650.72h3.16v28.0h-3.16zM501.26 650.72h3.16v28.0h-3.16zM514.80 650.72h3.16v28.0h-3.16zM519.31 650.72h3.16v28.0h-3.16zM559.93 650.72h5.41v28.0h-5.41zM568.95 650.72h3.16v28.0h-3.16zM575.72 650.72h3.16v28.0h-3.16zM587.01 650.72h3.16v28.0h-3.16zM600.55 650.72h5.41v28.0h-5.41zM632.14 650.72h3.16v28.0h-3.16zM679.52 650.72h3.16v28.0h-3.16zM686.29 650.72h3.16v28.0h-3.16z" fill="#000"/>
<text x="127.00" y="672.92" font-size="23" text-anchor="end">PAPPA2</text>
<text x="715.11" y="673.12" font-size="23">26%</text>
<rect x="775.00" y="654.87" width="52.50" height="19.70" fill="#000"/>
<rect x="133.90" y="682.94" width="575.41" height="27.40" fill="#cccccc"/>
<path d="M133.45 682.64h7.67v28.0h-7.67zM142.48 682.64h9.93v28.0h-9.93zM160.53 682.64h5.41v28.0h-5.41zM167.30 682.64h3.16v28.0h-3.16zM171.81 682.64h3.16v28.0h-3.16zM180.84 682.64h7.67v28.0h-7.67zM189.86 682.64h3.16v28.0h-3.16zM194.38 682.64h3.16v28.0h-3.16zM201.15 682.64h3.16v28.0h-3.16zM205.66 682.64h3.16v28.0h-3.16zM210.17 682.64h5.41v28.0h-5.41zM219.20 682.64h7.67v28.0h-7.67zM228.22 682.64h5.41v28.0h-5.41zM246.28 682.64h3.16v28.0h-3.16zM250.79 682.64h3.16v28.0h-3.16zM259.81 682.64h3.16v28.0h-3.16zM273.35 682.64h5.41v28.0h-5.41zM282.38 682.64h3.16v28.0h-3.16zM289.15 682.64h3.16v28.0h-3.16zM293.66 682.64h3.16v28.0h-3.16zM298.17 682.64h5.41v28.0h-5.41zM304.94 682.64h3.16v28.0h-3.16zM309.46 682.64h3.16v28.0h-3.16zM329.77 682.64h3.16v28.0h-3.16zM334.28 682.64h3.16v28.0h-3.16zM356.84 682.64h3.16v28.0h-3.16zM361.36 682.64h7.67v28.0h-7.67zM379.41 682.64h3.16v28.0h-3.16zM390.69 682.64h3.16v28.0h-3.16zM404.23 682.64h3.16v28.0h-3.16zM411.00 682.64h3.16v28.0h-3.16zM429.05 682.64h7.67v28.0h-7.67zM438.08 682.64h3.16v28.0h-3.16zM453.87 682.64h3.16v28.0h-3.16zM458.39 682.64h3.16v28.0h-3.16zM462.90 682.64h3.16v28.0h-3.16zM478.69 682.64h3.16v28.0h-3.16zM489.98 682.64h3.16v28.0h-3.16zM499.00 682.64h3.16v28.0h-3.16zM503.52 682.64h3.16v28.0h-3.16zM508.03 682.64h3.16v28.0h-3.16zM517.05 682.64h3.16v28.0h-3.16zM541.88 682.64h3.16v28.0h-3.16zM555.42 682.64h3.16v28.0h-3.16zM559.93 682.64h3.16v28.0h-3.16zM577.98 682.64h3.16v28.0h-3.16zM582.49 682.64h3.16v28.0h-3.16zM605.06 682.64h3.16v28.0h-3.16zM675.01 682.64h3.16v28.0h-3.16z" fill="#000"/>
<text x="127.00" y="704.84" font-size="23" text-anchor="end">ADAMTS12</text>
<text x="715.11" y="705.04" font-size="23">26%</text>
<rect x="775.00" y="686.79" width="52.50" height="19.70" fill="#000"/>
<rect x="133.90" y="714.86" width="575.41" height="27.40" fill="#cccccc"/>
<path d="M133.45 714.56h3.16v28.0h-3.16zM140.22 714.56h3.16v28.0h-3.16zM146.99 714.56h3.16v28.0h-3.16zM151.50 714.56h5.41v28.0h-5.41zM167.30 714.56h5.41v28.0h-5.41zM174.07 714.56h5.41v28.0h-5.41zM185.35 714.56h3.16v28.0h-3.16zM194.38 714.56h3.16v28.0h-3.16zM198.89 714.56h9.93v28.0h-9.93zM216.94 714.56h3.16v28.0h-3.16zM221.45 714.56h3.16v28.0h-3.16zM230.48 714.56h3.16v28.0h-3.16zM237.25 714.56h5.41v28.0h-5.41zM246.28 714.56h3.16v28.0h-3.16zM259.81 714.56h5.41v28.0h-5.41zM266.58 714.56h3.16v28.0h-3.16zM271.10 714.56h3.16v28.0h-3.16zM275.61 714.56h3.16v28.0h-3.16zM282.38 714.56h3.16v28.0h-3.16zM286.89 714.56h3.16v28.0h-3.16zM291.41 714.56h3.16v28.0h-3.16zM300.43 714.56h9.93v28.0h-9.93zM311.71 714.56h3.16v28.0h-3.16zM316.23 714.56h5.41v28.0h-5.41zM325.25 714.56h7.67v28.0h-7.67zM361.36 714.56h3.16v28.0h-3.16zM370.38 714.56h5.41v28.0h-5.41zM381.67 714.56h3.16v28.0h-3.16zM388.43 714.56h9.93v28.0h-9.93zM399.72 714.56h3.16v28.0h-3.16zM424.54 714.56h3.16v28.0h-3.16zM429.05 714.56h5.41v28.0h-5.41zM465.16 714.56h3.16v28.0h-3.16zM474.18 714.56h3.16v28.0h-3.16zM483.21 714.56h3.16v28.0h-3.16zM492.23 714.56h3.16v28.0h-3.16zM499.00 714.56h3.16v28.0h-3.16zM503.52 714.56h7.67v28.0h-7.67zM532.85 714.56h3.16v28.0h-3.16zM537.36 714.56h3.16v28.0h-3.16zM557.67 714.56h5.41v28.0h-5.41zM575.72 714.56h3.16v28.0h-3.16zM582.49 714.56h3.16v28.0h-3.16zM600.55 714.56h3.16v28.0h-3.16zM627.62 714.56h3.16v28.0h-3.16zM638.91 714.56h3.16v28.0h-3.16zM643.42 714.56h3.16v28.0h-3.16zM675.01 714.56h3.16v28.0h-3.16z" fill="#000"/>
<text x="127.00" y="736.76" font-size="23" text-anchor="end">COL11A1</text>
<text x="715.11" y="736.96" font-size="23">27%</text>
<rect x="775.00" y="718.71" width="54.80" height="19.70" fill="#000"/>
<rect x="133.90" y="746.78" width="575.41" height="27.40" fill="#cccccc"/>
<path d="M133.45 746.48h3.16v28.0h-3.16zM137.96 746.48h5.41v28.0h-5.41zM144.73 746.48h3.16v28.0h-3.16zM149.25 746.48h16.70v28.0h-16.70zM171.81 746.48h7.67v28.0h-7.67zM189.86 746.48h3.16v28.0h-3.16zM196.63 746.48h9.93v28.0h-9.93zM219.20 746.48h3.16v28.0h-3.16zM223.71 746.48h5.41v28.0h-5.41zM234.99 746.48h3.16v28.0h-3.16zM241.76 746.48h5.41v28.0h-5.41zM264.33 746.48h5.41v28.0h-5.41zM271.10 746.48h3.16v28.0h-3.16zM284.64 746.48h5.41v28.0h-5.41zM293.66 746.48h3.16v28.0h-3.16zM298.17 746.48h14.44v28.0h-14.44zM323.00 746.48h3.16v28.0h-3.16zM343.30 746.48h5.41v28.0h-5.41zM361.36 746.48h3.16v28.0h-3.16zM365.87 746.48h5.41v28.0h-5.41zM372.64 746.48h7.67v28.0h-7.67zM399.72 746.48h3.16v28.0h-3.16zM413.26 746.48h3.16v28.0h-3.16zM456.13 746.48h3.16v28.0h-3.16zM467.41 746.48h3.16v28.0h-3.16zM499.00 746.48h3.16v28.0h-3.16zM503.52 746.48h9.93v28.0h-9.93zM550.90 746.48h3.16v28.0h-3.16zM564.44 746.48h3.16v28.0h-3.16zM573.47 746.48h3.16v28.0h-3.16zM600.55 746.48h3.16v28.0h-3.16zM605.06 746.48h3.16v28.0h-3.16zM634.39 746.48h3.16v28.0h-3.16zM675.01 746.48h3.16v28.0h-3.16z" fill="#000"/>
<text x="127.00" y="768.68" font-size="23" text-anchor="end">DNAH9</text>
<text x="715.11" y="768.88" font-size="23">25%</text>
<rect x="775.00" y="750.63" width="49.20" height="19.70" fill="#000"/>
</g>
<rect x="133.90" y="782.90" width="575.41" height="33.70" fill="#98fb98"/>
<text x="716.31" y="809.70" font-size="27.5">Risk</text>
<path d="M133.90 131.9h2.256v-126.54h-2.256zM136.16 131.9h2.256v-113.22h-2.256zM138.41 131.9h2.256v-113.22h-2.256zM140.67 131.9h2.256v-119.88h-2.256zM142.93 131.9h2.256v-106.56h-2.256zM145.18 131.9h2.256v-99.90h-2.256zM147.44 131.9h2.256v-113.22h-2.256zM149.70 131.9h2.256v-119.88h-2.256zM151.95 131.9h2.256v-119.88h-2.256zM154.21 131.9h2.256v-106.56h-2.256zM156.47 131.9h2.256v-93.24h-2.256zM158.72 131.9h2.256v-93.24h-2.256zM160.98 131.9h2.256v-86.58h-2.256zM163.23 131.9h2.256v-93.24h-2.256zM165.49 131.9h2.256v-73.26h-2.256zM167.75 131.9h2.256v-113.22h-2.256zM170.00 131.9h2.256v-99.90h-2.256zM172.26 131.9h2.256v-106.56h-2.256zM174.52 131.9h2.256v-106.56h-2.256zM176.77 131.9h2.256v-106.56h-2.256zM179.03 131.9h2.256v-59.94h-2.256zM181.29 131.9h2.256v-79.92h-2.256zM183.54 131.9h2.256v-93.24h-2.256zM185.80 131.9h2.256v-106.56h-2.256zM188.06 131.9h2.256v-93.24h-2.256zM190.31 131.9h2.256v-86.58h-2.256zM192.57 131.9h2.256v-73.26h-2.256zM194.83 131.9h2.256v-99.90h-2.256zM197.08 131.9h2.256v-73.26h-2.256zM199.34 131.9h2.256v-73.26h-2.256zM201.59 131.9h2.256v-106.56h-2.256zM203.85 131.9h2.256v-113.22h-2.256zM206.11 131.9h2.256v-73.26h-2.256zM208.36 131.9h2.256v-79.92h-2.256zM210.62 131.9h2.256v-93.24h-2.256zM212.88 131.9h2.256v-79.92h-2.256zM215.13 131.9h2.256v-59.94h-2.256zM217.39 131.9h2.256v-59.94h-2.256zM219.65 131.9h2.256v-99.90h-2.256zM221.90 131.9h2.256v-86.58h-2.256zM224.16 131.9h2.256v-53.28h-2.256zM226.42 131.9h2.256v-99.90h-2.256zM228.67 131.9h2.256v-86.58h-2.256zM230.93 131.9h2.256v-99.90h-2.256zM233.19 131.9h2.256v-73.26h-2.256zM235.44 131.9h2.256v-73.26h-2.256zM237.70 131.9h2.256v-66.60h-2.256zM239.96 131.9h2.256v-79.92h-2.256zM242.21 131.9h2.256v-53.28h-2.256zM244.47 131.9h2.256v-46.62h-2.256zM246.73 131.9h2.256v-93.24h-2.256zM248.98 131.9h2.256v-59.94h-2.256zM251.24 131.9h2.256v-59.94h-2.256zM253.49 131.9h2.256v-59.94h-2.256zM255.75 131.9h2.256v-53.28h-2.256zM258.01 131.9h2.256v-59.94h-2.256zM260.26 131.9h2.256v-99.90h-2.256zM262.52 131.9h2.256v-86.58h-2.256zM264.78 131.9h2.256v-86.58h-2.256zM267.03 131.9h2.256v-93.24h-2.256zM269.29 131.9h2.256v-46.62h-2.256zM271.55 131.9h2.256v-93.24h-2.256zM273.80 131.9h2.256v-39.96h-2.256zM276.06 131.9h2.256v-59.94h-2.256zM278.32 131.9h2.256v-46.62h-2.256zM280.57 131.9h2.256v-59.94h-2.256zM282.83 131.9h2.256v-86.58h-2.256zM285.09 131.9h2.256v-73.26h-2.256zM287.34 131.9h2.256v-93.24h-2.256zM289.60 131.9h2.256v-46.62h-2.256zM291.86 131.9h2.256v-26.64h-2.256zM294.11 131.9h2.256v-106.56h-2.256zM296.37 131.9h2.256v-66.60h-2.256zM298.62 131.9h2.256v-86.58h-2.256zM300.88 131.9h2.256v-113.22h-2.256zM303.14 131.9h2.256v-73.26h-2.256zM305.39 131.9h2.256v-99.90h-2.256zM307.65 131.9h2.256v-66.60h-2.256zM309.91 131.9h2.256v-79.92h-2.256zM312.16 131.9h2.256v-73.26h-2.256zM314.42 131.9h2.256v-59.94h-2.256zM316.68 131.9h2.256v-79.92h-2.256zM318.93 131.9h2.256v-66.60h-2.256zM321.19 131.9h2.256v-46.62h-2.256zM323.45 131.9h2.256v-53.28h-2.256zM325.70 131.9h2.256v-73.26h-2.256zM327.96 131.9h2.256v-73.26h-2.256zM330.22 131.9h2.256v-73.26h-2.256zM332.47 131.9h2.256v-53.28h-2.256zM334.73 131.9h2.256v-53.28h-2.256zM336.99 131.9h2.256v-66.60h-2.256zM339.24 131.9h2.256v-53.28h-2.256zM341.50 131.9h2.256v-33.30h-2.256zM343.75 131.9h2.256v-39.96h-2.256zM346.01 131.9h2.256v-59.94h-2.256zM348.27 131.9h2.256v-46.62h-2.256zM350.52 131.9h2.256v-33.30h-2.256zM352.78 131.9h2.256v-39.96h-2.256zM355.04 131.9h2.256v-19.98h-2.256zM357.29 131.9h2.256v-19.98h-2.256zM359.55 131.9h2.256v-13.32h-2.256zM361.81 131.9h2.256v-113.22h-2.256zM364.06 131.9h2.256v-66.60h-2.256zM366.32 131.9h2.256v-86.58h-2.256zM368.58 131.9h2.256v-86.58h-2.256zM370.83 131.9h2.256v-73.26h-2.256zM373.09 131.9h2.256v-86.58h-2.256zM375.35 131.9h2.256v-53.28h-2.256zM377.60 131.9h2.256v-66.60h-2.256zM379.86 131.9h2.256v-46.62h-2.256zM382.12 131.9h2.256v-39.96h-2.256zM384.37 131.9h2.256v-33.30h-2.256zM386.63 131.9h2.256v-66.60h-2.256zM388.88 131.9h2.256v-66.60h-2.256zM391.14 131.9h2.256v-73.26h-2.256zM393.40 131.9h2.256v-53.28h-2.256zM395.65 131.9h2.256v-73.26h-2.256zM397.91 131.9h2.256v-26.64h-2.256zM400.17 131.9h2.256v-46.62h-2.256zM402.42 131.9h2.256v-59.94h-2.256zM404.68 131.9h2.256v-79.92h-2.256zM406.94 131.9h2.256v-39.96h-2.256zM409.19 131.9h2.256v-33.30h-2.256zM411.45 131.9h2.256v-39.96h-2.256zM413.71 131.9h2.256v-73.26h-2.256zM415.96 131.9h2.256v-46.62h-2.256zM418.22 131.9h2.256v-26.64h-2.256zM420.48 131.9h2.256v-26.64h-2.256zM422.73 131.9h2.256v-26.64h-2.256zM424.99 131.9h2.256v-79.92h-2.256zM427.25 131.9h2.256v-59.94h-2.256zM429.50 131.9h2.256v-59.94h-2.256zM431.76 131.9h2.256v-73.26h-2.256zM434.01 131.9h2.256v-73.26h-2.256zM436.27 131.9h2.256v-53.28h-2.256zM438.53 131.9h2.256v-39.96h-2.256zM440.78 131.9h2.256v-33.30h-2.256zM443.04 131.9h2.256v-13.32h-2.256zM445.30 131.9h2.256v-19.98h-2.256zM447.55 131.9h2.256v-39.96h-2.256zM449.81 131.9h2.256v-33.30h-2.256zM452.07 131.9h2.256v-19.98h-2.256zM454.32 131.9h2.256v-33.30h-2.256zM456.58 131.9h2.256v-19.98h-2.256zM458.84 131.9h2.256v-53.28h-2.256zM461.09 131.9h2.256v-19.98h-2.256zM463.35 131.9h2.256v-33.30h-2.256zM465.61 131.9h2.256v-26.64h-2.256zM467.86 131.9h2.256v-26.64h-2.256zM470.12 131.9h2.256v-19.98h-2.256zM472.38 131.9h2.256v-13.32h-2.256zM474.63 131.9h2.256v-33.30h-2.256zM476.89 131.9h2.256v-13.32h-2.256zM479.14 131.9h2.256v-33.30h-2.256zM481.40 131.9h2.256v-33.30h-2.256zM483.66 131.9h2.256v-19.98h-2.256zM485.91 131.9h2.256v-13.32h-2.256zM488.17 131.9h2.256v-13.32h-2.256zM490.43 131.9h2.256v-13.32h-2.256zM492.68 131.9h2.256v-13.32h-2.256zM494.94 131.9h2.256v-6.66h-2.256zM497.20 131.9h2.256v-6.66h-2.256zM499.45 131.9h2.256v-86.58h-2.256zM501.71 131.9h2.256v-59.94h-2.256zM503.97 131.9h2.256v-79.92h-2.256zM506.22 131.9h2.256v-46.62h-2.256zM508.48 131.9h2.256v-79.92h-2.256zM510.74 131.9h2.256v-53.28h-2.256zM512.99 131.9h2.256v-19.98h-2.256zM515.25 131.9h2.256v-46.62h-2.256zM517.50 131.9h2.256v-39.96h-2.256zM519.76 131.9h2.256v-46.62h-2.256zM522.02 131.9h2.256v-19.98h-2.256zM524.27 131.9h2.256v-19.98h-2.256zM526.53 131.9h2.256v-66.60h-2.256zM528.79 131.9h2.256v-19.98h-2.256zM531.04 131.9h2.256v-13.32h-2.256zM533.30 131.9h2.256v-26.64h-2.256zM535.56 131.9h2.256v-26.64h-2.256zM537.81 131.9h2.256v-33.30h-2.256zM540.07 131.9h2.256v-26.64h-2.256zM542.33 131.9h2.256v-53.28h-2.256zM544.58 131.9h2.256v-39.96h-2.256zM546.84 131.9h2.256v-13.32h-2.256zM549.10 131.9h2.256v-13.32h-2.256zM551.35 131.9h2.256v-19.98h-2.256zM553.61 131.9h2.256v-6.66h-2.256zM555.87 131.9h2.256v-66.60h-2.256zM558.12 131.9h2.256v-53.28h-2.256zM560.38 131.9h2.256v-79.92h-2.256zM562.63 131.9h2.256v-53.28h-2.256zM564.89 131.9h2.256v-53.28h-2.256zM567.15 131.9h2.256v-26.64h-2.256zM569.40 131.9h2.256v-26.64h-2.256zM571.66 131.9h2.256v-19.98h-2.256zM573.92 131.9h2.256v-39.96h-2.256zM576.17 131.9h2.256v-66.60h-2.256zM578.43 131.9h2.256v-39.96h-2.256zM580.69 131.9h2.256v-26.64h-2.256zM582.94 131.9h2.256v-53.28h-2.256zM585.20 131.9h2.256v-33.30h-2.256zM587.46 131.9h2.256v-33.30h-2.256zM589.71 131.9h2.256v-13.32h-2.256zM591.97 131.9h2.256v-6.66h-2.256zM594.23 131.9h2.256v-6.66h-2.256zM596.48 131.9h2.256v-6.66h-2.256zM598.74 131.9h2.256v-39.96h-2.256zM601.00 131.9h2.256v-53.28h-2.256zM603.25 131.9h2.256v-26.64h-2.256zM605.51 131.9h2.256v-46.62h-2.256zM607.76 131.9h2.256v-39.96h-2.256zM610.02 131.9h2.256v-13.32h-2.256zM612.28 131.9h2.256v-19.98h-2.256zM614.53 131.9h2.256v-19.98h-2.256zM616.79 131.9h2.256v-19.98h-2.256zM619.05 131.9h2.256v-19.98h-2.256zM621.30 131.9h2.256v-13.32h-2.256zM623.56 131.9h2.256v-13.32h-2.256zM625.82 131.9h2.256v-6.66h-2.256zM628.07 131.9h2.256v-33.30h-2.256zM630.33 131.9h2.256v-26.64h-2.256zM632.59 131.9h2.256v-33.30h-2.256zM634.84 131.9h2.256v-19.98h-2.256zM637.10 131.9h2.256v-26.64h-2.256zM639.36 131.9h2.256v-26.64h-2.256zM641.61 131.9h2.256v-33.30h-2.256zM643.87 131.9h2.256v-19.98h-2.256zM646.13 131.9h2.256v-13.32h-2.256zM648.38 131.9h2.256v-13.32h-2.256zM650.64 131.9h2.256v-6.66h-2.256zM652.89 131.9h2.256v-6.66h-2.256zM655.15 131.9h2.256v-6.66h-2.256zM657.41 131.9h2.256v-6.66h-2.256zM659.66 131.9h2.256v-6.66h-2.256zM661.92 131.9h2.256v-6.66h-2.256zM664.18 131.9h2.256v-6.66h-2.256zM666.43 131.9h2.256v-6.66h-2.256zM668.69 131.9h2.256v-13.32h-2.256zM670.95 131.9h2.256v-6.66h-2.256zM673.20 131.9h2.256v-6.66h-2.256zM675.46 131.9h2.256v-33.30h-2.256zM677.72 131.9h2.256v-6.66h-2.256zM679.97 131.9h2.256v-26.64h-2.256zM682.23 131.9h2.256v-19.98h-2.256zM684.49 131.9h2.256v-6.66h-2.256zM686.74 131.9h2.256v-19.98h-2.256zM689.00 131.9h2.256v-6.66h-2.256z" fill="#000"/>
<rect x="163.00" y="38.36" width="1.00" height="93.54" fill="#fff" opacity="0.92"/>
<rect x="190.00" y="38.36" width="1.00" height="93.54" fill="#fff" opacity="0.92"/>
<rect x="217.00" y="71.66" width="1.00" height="60.24" fill="#fff" opacity="0.92"/>
<rect x="244.00" y="78.32" width="1.00" height="53.58" fill="#fff" opacity="0.92"/>
<rect x="271.00" y="38.36" width="1.00" height="93.54" fill="#fff" opacity="0.92"/>
<rect x="298.00" y="45.02" width="1.00" height="86.88" fill="#fff" opacity="0.92"/>
<rect x="324.00" y="78.32" width="2.00" height="53.58" fill="#fff"/>
<rect x="324.60" y="78.62" width="0.80" height="53.28" fill="#333"/>
<rect x="351.00" y="98.30" width="2.00" height="33.60" fill="#fff"/>
<rect x="351.60" y="98.60" width="0.80" height="33.30" fill="#333"/>
<rect x="378.00" y="65.00" width="2.00" height="66.90" fill="#fff"/>
<rect x="378.60" y="65.30" width="0.80" height="66.60" fill="#333"/>
<rect x="405.00" y="51.68" width="2.00" height="80.22" fill="#fff"/>
<rect x="405.60" y="51.98" width="0.80" height="79.92" fill="#333"/>
<rect x="431.00" y="58.34" width="3.00" height="73.56" fill="#fff"/>
<rect x="432.00" y="58.64" width="1.00" height="73.26" fill="#222"/>
<rect x="458.00" y="78.32" width="3.00" height="53.58" fill="#fff"/>
<rect x="459.00" y="78.62" width="1.00" height="53.28" fill="#222"/>
<rect x="486.00" y="118.28" width="3.00" height="13.62" fill="#fff"/>
<rect x="487.00" y="118.58" width="1.00" height="13.32" fill="#222"/>
<rect x="513.00" y="111.62" width="3.00" height="20.28" fill="#fff"/>
<rect x="514.00" y="111.92" width="1.00" height="19.98" fill="#222"/>
<rect x="540.00" y="104.96" width="3.00" height="26.94" fill="#fff"/>
<rect x="541.00" y="105.26" width="1.00" height="26.64" fill="#222"/>
<rect x="567.00" y="104.96" width="3.00" height="26.94" fill="#fff"/>
<rect x="568.00" y="105.26" width="1.00" height="26.64" fill="#222"/>
<rect x="594.00" y="124.94" width="3.00" height="6.96" fill="#fff"/>
<rect x="595.00" y="125.24" width="1.00" height="6.66" fill="#222"/>
<rect x="621.00" y="118.28" width="3.00" height="13.62" fill="#fff"/>
<rect x="622.00" y="118.58" width="1.00" height="13.32" fill="#222"/>
<rect x="648.00" y="118.28" width="3.00" height="13.62" fill="#fff"/>
<rect x="649.00" y="118.58" width="1.00" height="13.32" fill="#222"/>
<rect x="675.00" y="98.30" width="3.00" height="33.60" fill="#fff"/>
<rect x="676.00" y="98.60" width="1.00" height="33.30" fill="#222"/>
<line x1="691.26" y1="131.30" x2="702.17" y2="131.30" stroke="#000" stroke-width="0.9"/>
<line x1="705.17" y1="131.30" x2="709.31" y2="131.30" stroke="#000" stroke-width="0.9"/>
<rect x="135.80" y="2.00" width="1.20" height="129.90" fill="#fff"/>
<line x1="134.90" y1="3.00" x2="134.90" y2="132.75" stroke="#000" stroke-width="1.7"/>
<line x1="127.00" y1="131.90" x2="134.90" y2="131.90" stroke="#000" stroke-width="1.7"/>
<text x="119.40" y="138.10" font-size="17.4" text-anchor="end">0</text>
<line x1="127.00" y1="98.60" x2="134.90" y2="98.60" stroke="#000" stroke-width="1.7"/>
<text x="119.40" y="104.80" font-size="17.4" text-anchor="end">5</text>
<line x1="127.00" y1="65.30" x2="134.90" y2="65.30" stroke="#000" stroke-width="1.7"/>
<text x="119.40" y="71.50" font-size="17.4" text-anchor="end">10</text>
<line x1="127.00" y1="32.00" x2="134.90" y2="32.00" stroke="#000" stroke-width="1.7"/>
<text x="119.40" y="38.20" font-size="17.4" text-anchor="end">15</text>
<line x1="774.40" y1="138.20" x2="909.30" y2="138.20" stroke="#000" stroke-width="1.7"/>
<line x1="775.00" y1="139.05" x2="775.00" y2="130.50" stroke="#000" stroke-width="1.7"/>
<text x="775.00" y="125.40" font-size="17.6" text-anchor="middle">0</text>
<line x1="813.75" y1="139.05" x2="813.75" y2="130.50" stroke="#000" stroke-width="1.7"/>
<text x="813.75" y="125.40" font-size="17.6" text-anchor="middle">50</text>
<line x1="852.50" y1="139.05" x2="852.50" y2="130.50" stroke="#000" stroke-width="1.7"/>
<text x="852.50" y="125.40" font-size="17.6" text-anchor="middle">100</text>
<line x1="891.25" y1="139.05" x2="891.25" y2="130.50" stroke="#000" stroke-width="1.7"/>
<text x="891.25" y="125.40" font-size="17.6" text-anchor="middle">150</text>
<text transform="translate(941.40 51.50) scale(0.965 1)" font-size="57">B</text>
<g>
<rect x="1057.40" y="140.30" width="509.97" height="27.40" fill="#cccccc"/>
<path d="M1056.95 140.00h199.47v28.0h-199.47z" fill="#000"/>
<text x="1050.60" y="162.20" font-size="23" text-anchor="end">TTN</text>
<text x="1573.17" y="162.40" font-size="23">39%</text>
<rect x="1633.20" y="144.15" width="126.85" height="19.70" fill="#000"/>
<rect x="1057.40" y="172.22" width="509.97" height="27.40" fill="#cccccc"/>
<path d="M1056.95 171.92h95.67v28.0h-95.67zM1255.52 171.92h95.67v28.0h-95.67z" fill="#000"/>
<text x="1050.60" y="194.12" font-size="23" text-anchor="end">MUC16</text>
<text x="1573.17" y="194.32" font-size="23">37%</text>
<rect x="1633.20" y="176.07" width="121.09" height="19.70" fill="#000"/>
<rect x="1057.40" y="204.14" width="509.97" height="27.40" fill="#cccccc"/>
<path d="M1056.95 203.84h66.34v28.0h-66.34zM1151.72 203.84h46.03v28.0h-46.03zM1255.52 203.84h25.72v28.0h-25.72zM1350.30 203.84h32.49v28.0h-32.49z" fill="#000"/>
<text x="1050.60" y="226.04" font-size="23" text-anchor="end">CSMD3</text>
<text x="1573.17" y="226.24" font-size="23">33%</text>
<rect x="1633.20" y="207.99" width="106.67" height="19.70" fill="#000"/>
<rect x="1057.40" y="236.06" width="509.97" height="27.40" fill="#cccccc"/>
<path d="M1056.95 235.76h50.54v28.0h-50.54zM1122.39 235.76h14.44v28.0h-14.44zM1151.72 235.76h23.46v28.0h-23.46zM1196.85 235.76h16.70v28.0h-16.70zM1255.52 235.76h9.93v28.0h-9.93zM1280.34 235.76h27.98v28.0h-27.98zM1350.30 235.76h16.70v28.0h-16.70zM1381.89 235.76h32.49v28.0h-32.49z" fill="#000"/>
<text x="1050.60" y="257.96" font-size="23" text-anchor="end">RYR2</text>
<text x="1573.17" y="258.16" font-size="23">36%</text>
<rect x="1633.20" y="239.91" width="118.20" height="19.70" fill="#000"/>
<rect x="1057.40" y="267.98" width="509.97" height="27.40" fill="#cccccc"/>
<path d="M1056.95 267.68h27.98v28.0h-27.98zM1106.59 267.68h12.18v28.0h-12.18zM1122.39 267.68h5.41v28.0h-5.41zM1135.93 267.68h3.16v28.0h-3.16zM1151.72 267.68h16.70v28.0h-16.70zM1174.29 267.68h9.93v28.0h-9.93zM1196.85 267.68h9.93v28.0h-9.93zM1212.65 267.68h7.67v28.0h-7.67zM1255.52 267.68h5.41v28.0h-5.41zM1264.55 267.68h5.41v28.0h-5.41zM1280.34 267.68h14.44v28.0h-14.44zM1307.42 267.68h12.18v28.0h-12.18zM1350.30 267.68h7.67v28.0h-7.67zM1366.09 267.68h3.16v28.0h-3.16zM1381.89 267.68h5.41v28.0h-5.41zM1413.48 267.68h23.46v28.0h-23.46z" fill="#000"/>
<text x="1050.60" y="289.88" font-size="23" text-anchor="end">LRP1B</text>
<text x="1573.17" y="290.08" font-size="23">31%</text>
<rect x="1633.20" y="271.83" width="99.46" height="19.70" fill="#000"/>
<rect x="1057.40" y="299.90" width="509.97" height="27.40" fill="#cccccc"/>
<path d="M1056.95 299.60h21.21v28.0h-21.21zM1084.03 299.60h14.44v28.0h-14.44zM1106.59 299.60h7.67v28.0h-7.67zM1122.39 299.60h3.16v28.0h-3.16zM1126.90 299.60h3.16v28.0h-3.16zM1138.18 299.60h3.16v28.0h-3.16zM1151.72 299.60h14.44v28.0h-14.44zM1167.52 299.60h9.93v28.0h-9.93zM1183.31 299.60h5.41v28.0h-5.41zM1196.85 299.60h7.67v28.0h-7.67zM1205.88 299.60h3.16v28.0h-3.16zM1212.65 299.60h3.16v28.0h-3.16zM1219.42 299.60h12.18v28.0h-12.18zM1260.04 299.60h3.16v28.0h-3.16zM1269.06 299.60h7.67v28.0h-7.67zM1293.88 299.60h7.67v28.0h-7.67zM1307.42 299.60h3.16v28.0h-3.16zM1318.70 299.60h9.93v28.0h-9.93zM1350.30 299.60h5.41v28.0h-5.41zM1357.06 299.60h3.16v28.0h-3.16zM1366.09 299.60h5.41v28.0h-5.41zM1386.40 299.60h7.67v28.0h-7.67zM1436.04 299.60h18.95v28.0h-18.95z" fill="#000"/>
<text x="1050.60" y="321.80" font-size="23" text-anchor="end">USH2A</text>
<text x="1573.17" y="322.00" font-size="23">31%</text>
<rect x="1633.20" y="303.75" width="102.35" height="19.70" fill="#000"/>
<rect x="1057.40" y="331.82" width="509.97" height="27.40" fill="#cccccc"/>
<path d="M1056.95 331.52h16.70v28.0h-16.70zM1077.26 331.52h5.41v28.0h-5.41zM1084.03 331.52h12.18v28.0h-12.18zM1097.57 331.52h5.41v28.0h-5.41zM1106.59 331.52h5.41v28.0h-5.41zM1113.36 331.52h3.16v28.0h-3.16zM1117.88 331.52h3.16v28.0h-3.16zM1126.90 331.52h5.41v28.0h-5.41zM1135.93 331.52h3.16v28.0h-3.16zM1140.44 331.52h5.41v28.0h-5.41zM1151.72 331.52h9.93v28.0h-9.93zM1165.26 331.52h5.41v28.0h-5.41zM1174.29 331.52h7.67v28.0h-7.67zM1183.31 331.52h3.16v28.0h-3.16zM1187.83 331.52h5.41v28.0h-5.41zM1196.85 331.52h5.41v28.0h-5.41zM1205.88 331.52h7.67v28.0h-7.67zM1214.90 331.52h3.16v28.0h-3.16zM1219.42 331.52h5.41v28.0h-5.41zM1230.70 331.52h5.41v28.0h-5.41zM1255.52 331.52h5.41v28.0h-5.41zM1262.29 331.52h5.41v28.0h-5.41zM1280.34 331.52h3.16v28.0h-3.16zM1293.88 331.52h5.41v28.0h-5.41zM1300.65 331.52h3.16v28.0h-3.16zM1318.70 331.52h3.16v28.0h-3.16zM1327.73 331.52h3.16v28.0h-3.16zM1359.32 331.52h3.16v28.0h-3.16zM1370.60 331.52h5.41v28.0h-5.41zM1381.89 331.52h3.16v28.0h-3.16zM1393.17 331.52h3.16v28.0h-3.16zM1413.48 331.52h3.16v28.0h-3.16zM1436.04 331.52h5.41v28.0h-5.41zM1454.09 331.52h30.23v28.0h-30.23z" fill="#000"/>
<text x="1050.60" y="353.72" font-size="23" text-anchor="end">TP53</text>
<text x="1573.17" y="353.92" font-size="23">35%</text>
<rect x="1633.20" y="335.67" width="112.44" height="19.70" fill="#000"/>
<rect x="1057.40" y="363.74" width="509.97" height="27.40" fill="#cccccc"/>
<path d="M1056.95 363.44h9.93v28.0h-9.93zM1077.26 363.44h3.16v28.0h-3.16zM1084.03 363.44h7.67v28.0h-7.67zM1102.08 363.44h18.95v28.0h-18.95zM1122.39 363.44h3.16v28.0h-3.16zM1129.16 363.44h5.41v28.0h-5.41zM1135.93 363.44h5.41v28.0h-5.41zM1151.72 363.44h5.41v28.0h-5.41zM1160.75 363.44h3.16v28.0h-3.16zM1165.26 363.44h3.16v28.0h-3.16zM1169.78 363.44h3.16v28.0h-3.16zM1176.54 363.44h3.16v28.0h-3.16zM1183.31 363.44h7.67v28.0h-7.67zM1196.85 363.44h3.16v28.0h-3.16zM1201.37 363.44h3.16v28.0h-3.16zM1235.21 363.44h3.16v28.0h-3.16zM1255.52 363.44h3.16v28.0h-3.16zM1262.29 363.44h5.41v28.0h-5.41zM1269.06 363.44h3.16v28.0h-3.16zM1282.60 363.44h7.67v28.0h-7.67zM1298.40 363.44h3.16v28.0h-3.16zM1302.91 363.44h3.16v28.0h-3.16zM1307.42 363.44h5.41v28.0h-5.41zM1329.99 363.44h3.16v28.0h-3.16zM1350.30 363.44h5.41v28.0h-5.41zM1361.58 363.44h3.16v28.0h-3.16zM1381.89 363.44h3.16v28.0h-3.16zM1386.40 363.44h5.41v28.0h-5.41zM1395.42 363.44h5.41v28.0h-5.41zM1454.09 363.44h5.41v28.0h-5.41zM1483.43 363.44h5.41v28.0h-5.41z" fill="#000"/>
<text x="1050.60" y="385.64" font-size="23" text-anchor="end">ZFHX4</text>
<text x="1573.17" y="385.84" font-size="23">25%</text>
<rect x="1633.20" y="367.59" width="82.17" height="19.70" fill="#000"/>
<rect x="1057.40" y="395.66" width="509.97" height="27.40" fill="#cccccc"/>
<path d="M1056.95 395.36h5.41v28.0h-5.41zM1065.98 395.36h3.16v28.0h-3.16zM1072.75 395.36h3.16v28.0h-3.16zM1079.52 395.36h3.16v28.0h-3.16zM1084.03 395.36h7.67v28.0h-7.67zM1102.08 395.36h3.16v28.0h-3.16zM1106.59 395.36h7.67v28.0h-7.67zM1115.62 395.36h3.16v28.0h-3.16zM1135.93 395.36h3.16v28.0h-3.16zM1144.95 395.36h3.16v28.0h-3.16zM1151.72 395.36h3.16v28.0h-3.16zM1160.75 395.36h3.16v28.0h-3.16zM1165.26 395.36h3.16v28.0h-3.16zM1178.80 395.36h3.16v28.0h-3.16zM1187.83 395.36h3.16v28.0h-3.16zM1196.85 395.36h3.16v28.0h-3.16zM1203.62 395.36h5.41v28.0h-5.41zM1214.90 395.36h5.41v28.0h-5.41zM1237.47 395.36h3.16v28.0h-3.16zM1255.52 395.36h3.16v28.0h-3.16zM1266.80 395.36h3.16v28.0h-3.16zM1271.32 395.36h3.16v28.0h-3.16zM1293.88 395.36h3.16v28.0h-3.16zM1300.65 395.36h3.16v28.0h-3.16zM1318.70 395.36h5.41v28.0h-5.41zM1332.24 395.36h3.16v28.0h-3.16zM1350.30 395.36h3.16v28.0h-3.16zM1386.40 395.36h3.16v28.0h-3.16zM1395.42 395.36h3.16v28.0h-3.16zM1415.73 395.36h3.16v28.0h-3.16zM1440.56 395.36h3.16v28.0h-3.16zM1487.94 395.36h3.16v28.0h-3.16z" fill="#000"/>
<text x="1050.60" y="417.56" font-size="23" text-anchor="end">FLG</text>
<text x="1573.17" y="417.76" font-size="23">18%</text>
<rect x="1633.20" y="399.51" width="57.66" height="19.70" fill="#000"/>
<rect x="1057.40" y="427.58" width="509.97" height="27.40" fill="#cccccc"/>
<path d="M1056.95 427.28h7.67v28.0h-7.67zM1065.98 427.28h3.16v28.0h-3.16zM1077.26 427.28h5.41v28.0h-5.41zM1084.03 427.28h3.16v28.0h-3.16zM1090.80 427.28h5.41v28.0h-5.41zM1106.59 427.28h9.93v28.0h-9.93zM1122.39 427.28h3.16v28.0h-3.16zM1135.93 427.28h7.67v28.0h-7.67zM1144.95 427.28h5.41v28.0h-5.41zM1151.72 427.28h3.16v28.0h-3.16zM1156.24 427.28h7.67v28.0h-7.67zM1165.26 427.28h5.41v28.0h-5.41zM1176.54 427.28h3.16v28.0h-3.16zM1181.06 427.28h3.16v28.0h-3.16zM1192.34 427.28h3.16v28.0h-3.16zM1196.85 427.28h5.41v28.0h-5.41zM1208.14 427.28h7.67v28.0h-7.67zM1262.29 427.28h3.16v28.0h-3.16zM1266.80 427.28h3.16v28.0h-3.16zM1271.32 427.28h5.41v28.0h-5.41zM1280.34 427.28h9.93v28.0h-9.93zM1298.40 427.28h5.41v28.0h-5.41zM1305.16 427.28h3.16v28.0h-3.16zM1318.70 427.28h3.16v28.0h-3.16zM1334.50 427.28h3.16v28.0h-3.16zM1350.30 427.28h3.16v28.0h-3.16zM1370.60 427.28h3.16v28.0h-3.16zM1386.40 427.28h3.16v28.0h-3.16zM1490.20 427.28h5.41v28.0h-5.41z" fill="#000"/>
<text x="1050.60" y="449.48" font-size="23" text-anchor="end">XIRP2</text>
<text x="1573.17" y="449.68" font-size="23">23%</text>
<rect x="1633.20" y="431.43" width="73.52" height="19.70" fill="#000"/>
<rect x="1057.40" y="459.50" width="509.97" height="27.40" fill="#cccccc"/>
<path d="M1056.95 459.20h3.16v28.0h-3.16zM1065.98 459.20h5.41v28.0h-5.41zM1072.75 459.20h3.16v28.0h-3.16zM1086.28 459.20h3.16v28.0h-3.16zM1095.31 459.20h5.41v28.0h-5.41zM1106.59 459.20h7.67v28.0h-7.67zM1115.62 459.20h3.16v28.0h-3.16zM1156.24 459.20h14.44v28.0h-14.44zM1174.29 459.20h3.16v28.0h-3.16zM1181.06 459.20h3.16v28.0h-3.16zM1187.83 459.20h3.16v28.0h-3.16zM1199.11 459.20h5.41v28.0h-5.41zM1235.21 459.20h3.16v28.0h-3.16zM1260.04 459.20h3.16v28.0h-3.16zM1273.57 459.20h3.16v28.0h-3.16zM1293.88 459.20h3.16v28.0h-3.16zM1305.16 459.20h7.67v28.0h-7.67zM1318.70 459.20h3.16v28.0h-3.16zM1323.22 459.20h3.16v28.0h-3.16zM1336.76 459.20h5.41v28.0h-5.41zM1361.58 459.20h3.16v28.0h-3.16zM1384.14 459.20h5.41v28.0h-5.41zM1399.94 459.20h3.16v28.0h-3.16zM1417.99 459.20h3.16v28.0h-3.16zM1442.81 459.20h5.41v28.0h-5.41zM1458.61 459.20h3.16v28.0h-3.16zM1483.43 459.20h3.16v28.0h-3.16z" fill="#000"/>
<text x="1050.60" y="481.40" font-size="23" text-anchor="end">SPTA1</text>
<text x="1573.17" y="481.60" font-size="23">19%</text>
<rect x="1633.20" y="463.35" width="60.54" height="19.70" fill="#000"/>
<rect x="1057.40" y="491.42" width="509.97" height="27.40" fill="#cccccc"/>
<path d="M1056.95 491.12h7.67v28.0h-7.67zM1072.75 491.12h3.16v28.0h-3.16zM1079.52 491.12h3.16v28.0h-3.16zM1086.28 491.12h5.41v28.0h-5.41zM1097.57 491.12h3.16v28.0h-3.16zM1106.59 491.12h3.16v28.0h-3.16zM1113.36 491.12h3.16v28.0h-3.16zM1138.18 491.12h5.41v28.0h-5.41zM1151.72 491.12h3.16v28.0h-3.16zM1156.24 491.12h5.41v28.0h-5.41zM1163.01 491.12h5.41v28.0h-5.41zM1169.78 491.12h5.41v28.0h-5.41zM1181.06 491.12h5.41v28.0h-5.41zM1194.60 491.12h3.16v28.0h-3.16zM1208.14 491.12h3.16v28.0h-3.16zM1212.65 491.12h5.41v28.0h-5.41zM1223.93 491.12h3.16v28.0h-3.16zM1282.60 491.12h3.16v28.0h-3.16zM1305.16 491.12h3.16v28.0h-3.16zM1323.22 491.12h3.16v28.0h-3.16zM1327.73 491.12h3.16v28.0h-3.16zM1336.76 491.12h3.16v28.0h-3.16zM1341.27 491.12h3.16v28.0h-3.16zM1361.58 491.12h3.16v28.0h-3.16zM1386.40 491.12h3.16v28.0h-3.16zM1397.68 491.12h3.16v28.0h-3.16zM1436.04 491.12h3.16v28.0h-3.16zM1440.56 491.12h3.16v28.0h-3.16zM1447.32 491.12h3.16v28.0h-3.16zM1458.61 491.12h3.16v28.0h-3.16zM1487.94 491.12h3.16v28.0h-3.16z" fill="#000"/>
<text x="1050.60" y="513.32" font-size="23" text-anchor="end">FAT3</text>
<text x="1573.17" y="513.52" font-size="23">18%</text>
<rect x="1633.20" y="495.27" width="57.66" height="19.70" fill="#000"/>
<rect x="1057.40" y="523.34" width="509.97" height="27.40" fill="#cccccc"/>
<path d="M1059.21 523.04h5.41v28.0h-5.41zM1065.98 523.04h5.41v28.0h-5.41zM1084.03 523.04h3.16v28.0h-3.16zM1090.80 523.04h3.16v28.0h-3.16zM1113.36 523.04h3.16v28.0h-3.16zM1120.13 523.04h3.16v28.0h-3.16zM1124.64 523.04h7.67v28.0h-7.67zM1135.93 523.04h7.67v28.0h-7.67zM1153.98 523.04h5.41v28.0h-5.41zM1163.01 523.04h7.67v28.0h-7.67zM1196.85 523.04h3.16v28.0h-3.16zM1201.37 523.04h3.16v28.0h-3.16zM1208.14 523.04h3.16v28.0h-3.16zM1226.19 523.04h3.16v28.0h-3.16zM1230.70 523.04h3.16v28.0h-3.16zM1255.52 523.04h5.41v28.0h-5.41zM1262.29 523.04h3.16v28.0h-3.16zM1271.32 523.04h3.16v28.0h-3.16zM1289.37 523.04h3.16v28.0h-3.16zM1296.14 523.04h3.16v28.0h-3.16zM1305.16 523.04h3.16v28.0h-3.16zM1311.93 523.04h3.16v28.0h-3.16zM1388.66 523.04h3.16v28.0h-3.16zM1458.61 523.04h3.16v28.0h-3.16z" fill="#000"/>
<text x="1050.60" y="545.24" font-size="23" text-anchor="end">PCDH15</text>
<text x="1573.17" y="545.44" font-size="23">15%</text>
<rect x="1633.20" y="527.19" width="49.01" height="19.70" fill="#000"/>
<rect x="1057.40" y="555.26" width="509.97" height="27.40" fill="#cccccc"/>
<path d="M1061.46 554.96h7.67v28.0h-7.67zM1070.49 554.96h5.41v28.0h-5.41zM1079.52 554.96h3.16v28.0h-3.16zM1088.54 554.96h3.16v28.0h-3.16zM1095.31 554.96h3.16v28.0h-3.16zM1099.82 554.96h9.93v28.0h-9.93zM1124.64 554.96h3.16v28.0h-3.16zM1131.41 554.96h3.16v28.0h-3.16zM1135.93 554.96h3.16v28.0h-3.16zM1144.95 554.96h3.16v28.0h-3.16zM1151.72 554.96h3.16v28.0h-3.16zM1156.24 554.96h7.67v28.0h-7.67zM1167.52 554.96h3.16v28.0h-3.16zM1174.29 554.96h3.16v28.0h-3.16zM1196.85 554.96h5.41v28.0h-5.41zM1208.14 554.96h3.16v28.0h-3.16zM1217.16 554.96h3.16v28.0h-3.16zM1266.80 554.96h7.67v28.0h-7.67zM1275.83 554.96h3.16v28.0h-3.16zM1298.40 554.96h5.41v28.0h-5.41zM1314.19 554.96h3.16v28.0h-3.16zM1341.27 554.96h5.41v28.0h-5.41zM1352.55 554.96h3.16v28.0h-3.16zM1363.83 554.96h3.16v28.0h-3.16zM1402.19 554.96h3.16v28.0h-3.16zM1420.25 554.96h5.41v28.0h-5.41zM1438.30 554.96h3.16v28.0h-3.16zM1447.32 554.96h3.16v28.0h-3.16zM1458.61 554.96h3.16v28.0h-3.16zM1494.71 554.96h3.16v28.0h-3.16z" fill="#000"/>
<text x="1050.60" y="577.16" font-size="23" text-anchor="end">ZNF536</text>
<text x="1573.17" y="577.36" font-size="23">19%</text>
<rect x="1633.20" y="559.11" width="63.43" height="19.70" fill="#000"/>
<rect x="1057.40" y="587.18" width="509.97" height="27.40" fill="#cccccc"/>
<path d="M1056.95 586.88h3.16v28.0h-3.16zM1061.46 586.88h7.67v28.0h-7.67zM1081.77 586.88h3.16v28.0h-3.16zM1088.54 586.88h3.16v28.0h-3.16zM1097.57 586.88h3.16v28.0h-3.16zM1102.08 586.88h5.41v28.0h-5.41zM1108.85 586.88h7.67v28.0h-7.67zM1135.93 586.88h5.41v28.0h-5.41zM1151.72 586.88h3.16v28.0h-3.16zM1156.24 586.88h3.16v28.0h-3.16zM1178.80 586.88h3.16v28.0h-3.16zM1183.31 586.88h3.16v28.0h-3.16zM1187.83 586.88h3.16v28.0h-3.16zM1196.85 586.88h3.16v28.0h-3.16zM1239.73 586.88h3.16v28.0h-3.16zM1293.88 586.88h5.41v28.0h-5.41zM1320.96 586.88h3.16v28.0h-3.16zM1361.58 586.88h3.16v28.0h-3.16zM1366.09 586.88h3.16v28.0h-3.16zM1375.12 586.88h3.16v28.0h-3.16zM1386.40 586.88h3.16v28.0h-3.16z" fill="#000"/>
<text x="1050.60" y="609.08" font-size="23" text-anchor="end">MUC17</text>
<text x="1573.17" y="609.28" font-size="23">12%</text>
<rect x="1633.20" y="591.03" width="40.36" height="19.70" fill="#000"/>
<rect x="1057.40" y="619.10" width="509.97" height="27.40" fill="#cccccc"/>
<path d="M1056.95 618.80h5.41v28.0h-5.41zM1063.72 618.80h5.41v28.0h-5.41zM1070.49 618.80h3.16v28.0h-3.16zM1075.00 618.80h3.16v28.0h-3.16zM1081.77 618.80h5.41v28.0h-5.41zM1088.54 618.80h3.16v28.0h-3.16zM1111.11 618.80h3.16v28.0h-3.16zM1117.88 618.80h3.16v28.0h-3.16zM1122.39 618.80h5.41v28.0h-5.41zM1138.18 618.80h5.41v28.0h-5.41zM1144.95 618.80h3.16v28.0h-3.16zM1151.72 618.80h5.41v28.0h-5.41zM1169.78 618.80h3.16v28.0h-3.16zM1183.31 618.80h5.41v28.0h-5.41zM1190.08 618.80h3.16v28.0h-3.16zM1194.60 618.80h3.16v28.0h-3.16zM1199.11 618.80h5.41v28.0h-5.41zM1205.88 618.80h3.16v28.0h-3.16zM1217.16 618.80h3.16v28.0h-3.16zM1223.93 618.80h3.16v28.0h-3.16zM1235.21 618.80h3.16v28.0h-3.16zM1282.60 618.80h3.16v28.0h-3.16zM1298.40 618.80h3.16v28.0h-3.16zM1320.96 618.80h3.16v28.0h-3.16zM1354.81 618.80h3.16v28.0h-3.16zM1363.83 618.80h3.16v28.0h-3.16zM1370.60 618.80h3.16v28.0h-3.16zM1377.37 618.80h3.16v28.0h-3.16zM1386.40 618.80h3.16v28.0h-3.16zM1404.45 618.80h3.16v28.0h-3.16zM1449.58 618.80h3.16v28.0h-3.16zM1463.12 618.80h3.16v28.0h-3.16z" fill="#000"/>
<text x="1050.60" y="641.00" font-size="23" text-anchor="end">CSMD1</text>
<text x="1573.17" y="641.20" font-size="23">18%</text>
<rect x="1633.20" y="622.95" width="57.66" height="19.70" fill="#000"/>
<rect x="1057.40" y="651.02" width="509.97" height="27.40" fill="#cccccc"/>
<path d="M1061.46 650.72h3.16v28.0h-3.16zM1065.98 650.72h3.16v28.0h-3.16zM1084.03 650.72h3.16v28.0h-3.16zM1088.54 650.72h3.16v28.0h-3.16zM1095.31 650.72h3.16v28.0h-3.16zM1106.59 650.72h3.16v28.0h-3.16zM1111.11 650.72h3.16v28.0h-3.16zM1153.98 650.72h3.16v28.0h-3.16zM1169.78 650.72h3.16v28.0h-3.16zM1194.60 650.72h3.16v28.0h-3.16zM1201.37 650.72h3.16v28.0h-3.16zM1217.16 650.72h3.16v28.0h-3.16zM1271.32 650.72h3.16v28.0h-3.16zM1300.65 650.72h3.16v28.0h-3.16zM1318.70 650.72h3.16v28.0h-3.16zM1334.50 650.72h3.16v28.0h-3.16zM1345.78 650.72h3.16v28.0h-3.16zM1361.58 650.72h3.16v28.0h-3.16zM1375.12 650.72h3.16v28.0h-3.16zM1397.68 650.72h3.16v28.0h-3.16zM1420.25 650.72h3.16v28.0h-3.16zM1447.32 650.72h3.16v28.0h-3.16zM1465.38 650.72h3.16v28.0h-3.16zM1494.71 650.72h5.41v28.0h-5.41z" fill="#000"/>
<text x="1050.60" y="672.92" font-size="23" text-anchor="end">PAPPA2</text>
<text x="1573.17" y="673.12" font-size="23">11%</text>
<rect x="1633.20" y="654.87" width="36.04" height="19.70" fill="#000"/>
<rect x="1057.40" y="682.94" width="509.97" height="27.40" fill="#cccccc"/>
<path d="M1056.95 682.64h5.41v28.0h-5.41zM1065.98 682.64h3.16v28.0h-3.16zM1070.49 682.64h5.41v28.0h-5.41zM1077.26 682.64h5.41v28.0h-5.41zM1084.03 682.64h3.16v28.0h-3.16zM1088.54 682.64h3.16v28.0h-3.16zM1099.82 682.64h3.16v28.0h-3.16zM1108.85 682.64h3.16v28.0h-3.16zM1122.39 682.64h5.41v28.0h-5.41zM1135.93 682.64h3.16v28.0h-3.16zM1151.72 682.64h3.16v28.0h-3.16zM1158.49 682.64h3.16v28.0h-3.16zM1176.54 682.64h3.16v28.0h-3.16zM1183.31 682.64h5.41v28.0h-5.41zM1190.08 682.64h3.16v28.0h-3.16zM1196.85 682.64h3.16v28.0h-3.16zM1255.52 682.64h3.16v28.0h-3.16zM1262.29 682.64h5.41v28.0h-5.41zM1269.06 682.64h3.16v28.0h-3.16zM1273.57 682.64h3.16v28.0h-3.16zM1284.86 682.64h3.16v28.0h-3.16zM1309.68 682.64h3.16v28.0h-3.16zM1361.58 682.64h3.16v28.0h-3.16zM1366.09 682.64h3.16v28.0h-3.16zM1375.12 682.64h3.16v28.0h-3.16zM1404.45 682.64h3.16v28.0h-3.16zM1483.43 682.64h3.16v28.0h-3.16zM1494.71 682.64h3.16v28.0h-3.16zM1499.22 682.64h5.41v28.0h-5.41z" fill="#000"/>
<text x="1050.60" y="704.84" font-size="23" text-anchor="end">ADAMTS12</text>
<text x="1573.17" y="705.04" font-size="23">16%</text>
<rect x="1633.20" y="686.79" width="51.89" height="19.70" fill="#000"/>
<rect x="1057.40" y="714.86" width="509.97" height="27.40" fill="#cccccc"/>
<path d="M1059.21 714.56h9.93v28.0h-9.93zM1081.77 714.56h3.16v28.0h-3.16zM1088.54 714.56h3.16v28.0h-3.16zM1108.85 714.56h7.67v28.0h-7.67zM1147.21 714.56h3.16v28.0h-3.16zM1158.49 714.56h5.41v28.0h-5.41zM1165.26 714.56h14.44v28.0h-14.44zM1181.06 714.56h5.41v28.0h-5.41zM1199.11 714.56h3.16v28.0h-3.16zM1262.29 714.56h3.16v28.0h-3.16zM1269.06 714.56h3.16v28.0h-3.16zM1273.57 714.56h3.16v28.0h-3.16zM1287.11 714.56h3.16v28.0h-3.16zM1314.19 714.56h3.16v28.0h-3.16zM1343.53 714.56h3.16v28.0h-3.16zM1348.04 714.56h3.16v28.0h-3.16zM1354.81 714.56h3.16v28.0h-3.16zM1359.32 714.56h3.16v28.0h-3.16zM1368.35 714.56h3.16v28.0h-3.16z" fill="#000"/>
<text x="1050.60" y="736.76" font-size="23" text-anchor="end">COL11A1</text>
<text x="1573.17" y="736.96" font-size="23">14%</text>
<rect x="1633.20" y="718.71" width="44.69" height="19.70" fill="#000"/>
<rect x="1057.40" y="746.78" width="509.97" height="27.40" fill="#cccccc"/>
<path d="M1056.95 746.48h3.16v28.0h-3.16zM1065.98 746.48h5.41v28.0h-5.41zM1084.03 746.48h3.16v28.0h-3.16zM1088.54 746.48h3.16v28.0h-3.16zM1093.05 746.48h3.16v28.0h-3.16zM1097.57 746.48h5.41v28.0h-5.41zM1104.34 746.48h3.16v28.0h-3.16zM1133.67 746.48h3.16v28.0h-3.16zM1138.18 746.48h3.16v28.0h-3.16zM1144.95 746.48h3.16v28.0h-3.16zM1163.01 746.48h3.16v28.0h-3.16zM1167.52 746.48h5.41v28.0h-5.41zM1196.85 746.48h7.67v28.0h-7.67zM1255.52 746.48h5.41v28.0h-5.41zM1280.34 746.48h3.16v28.0h-3.16zM1284.86 746.48h3.16v28.0h-3.16zM1302.91 746.48h5.41v28.0h-5.41zM1329.99 746.48h3.16v28.0h-3.16zM1343.53 746.48h3.16v28.0h-3.16zM1348.04 746.48h3.16v28.0h-3.16zM1352.55 746.48h3.16v28.0h-3.16zM1361.58 746.48h3.16v28.0h-3.16zM1375.12 746.48h3.16v28.0h-3.16zM1381.89 746.48h3.16v28.0h-3.16zM1386.40 746.48h3.16v28.0h-3.16zM1402.19 746.48h3.16v28.0h-3.16zM1420.25 746.48h5.41v28.0h-5.41zM1458.61 746.48h3.16v28.0h-3.16zM1503.74 746.48h5.41v28.0h-5.41z" fill="#000"/>
<text x="1050.60" y="768.68" font-size="23" text-anchor="end">DNAH9</text>
<text x="1573.17" y="768.88" font-size="23">17%</text>
<rect x="1633.20" y="750.63" width="54.78" height="19.70" fill="#000"/>
</g>
<rect x="1057.40" y="782.90" width="509.97" height="33.70" fill="#f63412"/>
<text x="1574.37" y="809.70" font-size="27.5">Risk</text>
<path d="M1057.40 131.9h2.256v-112.32h-2.256zM1059.66 131.9h2.256v-105.30h-2.256zM1061.91 131.9h2.256v-105.30h-2.256zM1064.17 131.9h2.256v-84.24h-2.256zM1066.43 131.9h2.256v-126.36h-2.256zM1068.68 131.9h2.256v-70.20h-2.256zM1070.94 131.9h2.256v-70.20h-2.256zM1073.20 131.9h2.256v-77.22h-2.256zM1075.45 131.9h2.256v-49.14h-2.256zM1077.71 131.9h2.256v-63.18h-2.256zM1079.97 131.9h2.256v-77.22h-2.256zM1082.22 131.9h2.256v-56.16h-2.256zM1084.48 131.9h2.256v-98.28h-2.256zM1086.73 131.9h2.256v-70.20h-2.256zM1088.99 131.9h2.256v-112.32h-2.256zM1091.25 131.9h2.256v-56.16h-2.256zM1093.50 131.9h2.256v-56.16h-2.256zM1095.76 131.9h2.256v-56.16h-2.256zM1098.02 131.9h2.256v-63.18h-2.256zM1100.27 131.9h2.256v-56.16h-2.256zM1102.53 131.9h2.256v-56.16h-2.256zM1104.79 131.9h2.256v-56.16h-2.256zM1107.04 131.9h2.256v-91.26h-2.256zM1109.30 131.9h2.256v-91.26h-2.256zM1111.56 131.9h2.256v-91.26h-2.256zM1113.81 131.9h2.256v-77.22h-2.256zM1116.07 131.9h2.256v-49.14h-2.256zM1118.33 131.9h2.256v-42.12h-2.256zM1120.58 131.9h2.256v-28.08h-2.256zM1122.84 131.9h2.256v-63.18h-2.256zM1125.10 131.9h2.256v-56.16h-2.256zM1127.35 131.9h2.256v-42.12h-2.256zM1129.61 131.9h2.256v-42.12h-2.256zM1131.86 131.9h2.256v-35.10h-2.256zM1134.12 131.9h2.256v-28.08h-2.256zM1136.38 131.9h2.256v-77.22h-2.256zM1138.63 131.9h2.256v-70.20h-2.256zM1140.89 131.9h2.256v-49.14h-2.256zM1143.15 131.9h2.256v-21.06h-2.256zM1145.40 131.9h2.256v-49.14h-2.256zM1147.66 131.9h2.256v-28.08h-2.256zM1149.92 131.9h2.256v-14.04h-2.256zM1152.17 131.9h2.256v-98.28h-2.256zM1154.43 131.9h2.256v-70.20h-2.256zM1156.69 131.9h2.256v-84.24h-2.256zM1158.94 131.9h2.256v-84.24h-2.256zM1161.20 131.9h2.256v-77.22h-2.256zM1163.46 131.9h2.256v-63.18h-2.256zM1165.71 131.9h2.256v-84.24h-2.256zM1167.97 131.9h2.256v-77.22h-2.256zM1170.23 131.9h2.256v-70.20h-2.256zM1172.48 131.9h2.256v-42.12h-2.256zM1174.74 131.9h2.256v-56.16h-2.256zM1176.99 131.9h2.256v-56.16h-2.256zM1179.25 131.9h2.256v-42.12h-2.256zM1181.51 131.9h2.256v-49.14h-2.256zM1183.76 131.9h2.256v-70.20h-2.256zM1186.02 131.9h2.256v-42.12h-2.256zM1188.28 131.9h2.256v-49.14h-2.256zM1190.53 131.9h2.256v-35.10h-2.256zM1192.79 131.9h2.256v-21.06h-2.256zM1195.05 131.9h2.256v-35.10h-2.256zM1197.30 131.9h2.256v-91.26h-2.256zM1199.56 131.9h2.256v-77.22h-2.256zM1201.82 131.9h2.256v-70.20h-2.256zM1204.07 131.9h2.256v-28.08h-2.256zM1206.33 131.9h2.256v-42.12h-2.256zM1208.59 131.9h2.256v-49.14h-2.256zM1210.84 131.9h2.256v-28.08h-2.256zM1213.10 131.9h2.256v-35.10h-2.256zM1215.36 131.9h2.256v-35.10h-2.256zM1217.61 131.9h2.256v-42.12h-2.256zM1219.87 131.9h2.256v-21.06h-2.256zM1222.12 131.9h2.256v-21.06h-2.256zM1224.38 131.9h2.256v-28.08h-2.256zM1226.64 131.9h2.256v-21.06h-2.256zM1228.89 131.9h2.256v-14.04h-2.256zM1231.15 131.9h2.256v-21.06h-2.256zM1233.41 131.9h2.256v-14.04h-2.256zM1235.66 131.9h2.256v-28.08h-2.256zM1237.92 131.9h2.256v-14.04h-2.256zM1240.18 131.9h2.256v-14.04h-2.256zM1242.43 131.9h2.256v-7.02h-2.256zM1244.69 131.9h2.256v-7.02h-2.256zM1246.95 131.9h2.256v-7.02h-2.256zM1249.20 131.9h2.256v-7.02h-2.256zM1251.46 131.9h2.256v-7.02h-2.256zM1253.72 131.9h2.256v-7.02h-2.256zM1255.97 131.9h2.256v-70.20h-2.256zM1258.23 131.9h2.256v-49.14h-2.256zM1260.49 131.9h2.256v-35.10h-2.256zM1262.74 131.9h2.256v-63.18h-2.256zM1265.00 131.9h2.256v-42.12h-2.256zM1267.25 131.9h2.256v-42.12h-2.256zM1269.51 131.9h2.256v-49.14h-2.256zM1271.77 131.9h2.256v-56.16h-2.256zM1274.02 131.9h2.256v-49.14h-2.256zM1276.28 131.9h2.256v-21.06h-2.256zM1278.54 131.9h2.256v-14.04h-2.256zM1280.79 131.9h2.256v-42.12h-2.256zM1283.05 131.9h2.256v-49.14h-2.256zM1285.31 131.9h2.256v-49.14h-2.256zM1287.56 131.9h2.256v-42.12h-2.256zM1289.82 131.9h2.256v-28.08h-2.256zM1292.08 131.9h2.256v-21.06h-2.256zM1294.33 131.9h2.256v-49.14h-2.256zM1296.59 131.9h2.256v-42.12h-2.256zM1298.85 131.9h2.256v-49.14h-2.256zM1301.10 131.9h2.256v-49.14h-2.256zM1303.36 131.9h2.256v-28.08h-2.256zM1305.62 131.9h2.256v-49.14h-2.256zM1307.87 131.9h2.256v-35.10h-2.256zM1310.13 131.9h2.256v-35.10h-2.256zM1312.38 131.9h2.256v-21.06h-2.256zM1314.64 131.9h2.256v-28.08h-2.256zM1316.90 131.9h2.256v-14.04h-2.256zM1319.15 131.9h2.256v-49.14h-2.256zM1321.41 131.9h2.256v-35.10h-2.256zM1323.67 131.9h2.256v-28.08h-2.256zM1325.92 131.9h2.256v-14.04h-2.256zM1328.18 131.9h2.256v-21.06h-2.256zM1330.44 131.9h2.256v-21.06h-2.256zM1332.69 131.9h2.256v-14.04h-2.256zM1334.95 131.9h2.256v-21.06h-2.256zM1337.21 131.9h2.256v-21.06h-2.256zM1339.46 131.9h2.256v-14.04h-2.256zM1341.72 131.9h2.256v-21.06h-2.256zM1343.98 131.9h2.256v-28.08h-2.256zM1346.23 131.9h2.256v-14.04h-2.256zM1348.49 131.9h2.256v-21.06h-2.256zM1350.75 131.9h2.256v-49.14h-2.256zM1353.00 131.9h2.256v-49.14h-2.256zM1355.26 131.9h2.256v-35.10h-2.256zM1357.51 131.9h2.256v-21.06h-2.256zM1359.77 131.9h2.256v-28.08h-2.256zM1362.03 131.9h2.256v-63.18h-2.256zM1364.28 131.9h2.256v-28.08h-2.256zM1366.54 131.9h2.256v-35.10h-2.256zM1368.80 131.9h2.256v-21.06h-2.256zM1371.05 131.9h2.256v-28.08h-2.256zM1373.31 131.9h2.256v-14.04h-2.256zM1375.57 131.9h2.256v-35.10h-2.256zM1377.82 131.9h2.256v-14.04h-2.256zM1380.08 131.9h2.256v-7.02h-2.256zM1382.34 131.9h2.256v-35.10h-2.256zM1384.59 131.9h2.256v-21.06h-2.256zM1386.85 131.9h2.256v-70.20h-2.256zM1389.11 131.9h2.256v-28.08h-2.256zM1391.36 131.9h2.256v-14.04h-2.256zM1393.62 131.9h2.256v-14.04h-2.256zM1395.88 131.9h2.256v-21.06h-2.256zM1398.13 131.9h2.256v-28.08h-2.256zM1400.39 131.9h2.256v-14.04h-2.256zM1402.64 131.9h2.256v-21.06h-2.256zM1404.90 131.9h2.256v-21.06h-2.256zM1407.16 131.9h2.256v-7.02h-2.256zM1409.41 131.9h2.256v-7.02h-2.256zM1411.67 131.9h2.256v-7.02h-2.256zM1413.93 131.9h2.256v-14.04h-2.256zM1416.18 131.9h2.256v-14.04h-2.256zM1418.44 131.9h2.256v-14.04h-2.256zM1420.70 131.9h2.256v-28.08h-2.256zM1422.95 131.9h2.256v-21.06h-2.256zM1425.21 131.9h2.256v-7.02h-2.256zM1427.47 131.9h2.256v-7.02h-2.256zM1429.72 131.9h2.256v-7.02h-2.256zM1431.98 131.9h2.256v-7.02h-2.256zM1434.24 131.9h2.256v-7.02h-2.256zM1436.49 131.9h2.256v-21.06h-2.256zM1438.75 131.9h2.256v-21.06h-2.256zM1441.01 131.9h2.256v-21.06h-2.256zM1443.26 131.9h2.256v-14.04h-2.256zM1445.52 131.9h2.256v-14.04h-2.256zM1447.77 131.9h2.256v-28.08h-2.256zM1450.03 131.9h2.256v-14.04h-2.256zM1452.29 131.9h2.256v-7.02h-2.256zM1454.54 131.9h2.256v-14.04h-2.256zM1456.80 131.9h2.256v-14.04h-2.256zM1459.06 131.9h2.256v-42.12h-2.256zM1461.31 131.9h2.256v-7.02h-2.256zM1463.57 131.9h2.256v-14.04h-2.256zM1465.83 131.9h2.256v-14.04h-2.256zM1468.08 131.9h2.256v-7.02h-2.256zM1470.34 131.9h2.256v-7.02h-2.256zM1472.60 131.9h2.256v-7.02h-2.256zM1474.85 131.9h2.256v-7.02h-2.256zM1477.11 131.9h2.256v-7.02h-2.256zM1479.37 131.9h2.256v-7.02h-2.256zM1481.62 131.9h2.256v-7.02h-2.256zM1483.88 131.9h2.256v-21.06h-2.256zM1486.14 131.9h2.256v-7.02h-2.256zM1488.39 131.9h2.256v-14.04h-2.256zM1490.65 131.9h2.256v-7.02h-2.256zM1492.90 131.9h2.256v-7.02h-2.256zM1495.16 131.9h2.256v-21.06h-2.256zM1497.42 131.9h2.256v-7.02h-2.256zM1499.67 131.9h2.256v-7.02h-2.256zM1501.93 131.9h2.256v-7.02h-2.256zM1504.19 131.9h2.256v-7.02h-2.256zM1506.44 131.9h2.256v-7.02h-2.256z" fill="#000"/>
<rect x="1068.00" y="61.40" width="3.00" height="70.50" fill="#fff"/>
<rect x="1069.00" y="61.70" width="1.00" height="70.20" fill="#222"/>
<rect x="1095.00" y="75.44" width="3.00" height="56.46" fill="#fff"/>
<rect x="1096.00" y="75.74" width="1.00" height="56.16" fill="#222"/>
<rect x="1122.00" y="68.42" width="3.00" height="63.48" fill="#fff"/>
<rect x="1123.00" y="68.72" width="1.00" height="63.18" fill="#222"/>
<rect x="1150.00" y="117.56" width="3.00" height="14.34" fill="#fff"/>
<rect x="1151.00" y="117.86" width="1.00" height="14.04" fill="#222"/>
<rect x="1177.00" y="75.44" width="3.00" height="56.46" fill="#fff"/>
<rect x="1178.00" y="75.74" width="1.00" height="56.16" fill="#222"/>
<rect x="1204.00" y="103.52" width="3.00" height="28.38" fill="#fff"/>
<rect x="1205.00" y="103.82" width="1.00" height="28.08" fill="#222"/>
<rect x="1231.00" y="110.54" width="3.00" height="21.36" fill="#fff"/>
<rect x="1232.00" y="110.84" width="1.00" height="21.06" fill="#222"/>
<rect x="1258.00" y="82.46" width="3.00" height="49.44" fill="#fff"/>
<rect x="1259.00" y="82.76" width="1.00" height="49.14" fill="#222"/>
<rect x="1283.00" y="82.46" width="3.00" height="49.44" fill="#fff"/>
<rect x="1284.00" y="82.76" width="1.00" height="49.14" fill="#222"/>
<rect x="1310.00" y="96.50" width="3.00" height="35.40" fill="#fff"/>
<rect x="1311.00" y="96.80" width="1.00" height="35.10" fill="#222"/>
<rect x="1337.00" y="110.54" width="3.00" height="21.36" fill="#fff"/>
<rect x="1338.00" y="110.84" width="1.00" height="21.06" fill="#222"/>
<rect x="1364.00" y="103.52" width="3.00" height="28.38" fill="#fff"/>
<rect x="1365.00" y="103.82" width="1.00" height="28.08" fill="#222"/>
<rect x="1391.00" y="117.56" width="3.00" height="14.34" fill="#fff"/>
<rect x="1392.00" y="117.86" width="1.00" height="14.04" fill="#222"/>
<rect x="1418.00" y="117.56" width="3.00" height="14.34" fill="#fff"/>
<rect x="1419.00" y="117.86" width="1.00" height="14.04" fill="#222"/>
<rect x="1445.00" y="117.56" width="3.00" height="14.34" fill="#fff"/>
<rect x="1446.00" y="117.86" width="1.00" height="14.04" fill="#222"/>
<rect x="1472.00" y="124.58" width="3.00" height="7.32" fill="#fff"/>
<rect x="1473.00" y="124.88" width="1.00" height="7.02" fill="#222"/>
<rect x="1499.00" y="124.58" width="3.00" height="7.32" fill="#fff"/>
<rect x="1500.00" y="124.88" width="1.00" height="7.02" fill="#222"/>
<line x1="1508.70" y1="131.30" x2="1526.38" y2="131.30" stroke="#000" stroke-width="0.9"/>
<line x1="1529.38" y1="131.30" x2="1553.46" y2="131.30" stroke="#000" stroke-width="0.9"/>
<line x1="1556.46" y1="131.30" x2="1567.37" y2="131.30" stroke="#000" stroke-width="0.9"/>
<line x1="1058.40" y1="3.00" x2="1058.40" y2="132.75" stroke="#000" stroke-width="1.7"/>
<line x1="1050.50" y1="131.90" x2="1058.40" y2="131.90" stroke="#000" stroke-width="1.7"/>
<text x="1044.20" y="138.10" font-size="17.4" text-anchor="end">0</text>
<line x1="1050.50" y1="96.80" x2="1058.40" y2="96.80" stroke="#000" stroke-width="1.7"/>
<text x="1044.20" y="103.00" font-size="17.4" text-anchor="end">5</text>
<line x1="1050.50" y1="61.70" x2="1058.40" y2="61.70" stroke="#000" stroke-width="1.7"/>
<text x="1044.20" y="67.90" font-size="17.4" text-anchor="end">10</text>
<line x1="1050.50" y1="26.60" x2="1058.40" y2="26.60" stroke="#000" stroke-width="1.7"/>
<text x="1044.20" y="32.80" font-size="17.4" text-anchor="end">15</text>
<line x1="1632.60" y1="138.20" x2="1767.20" y2="138.20" stroke="#000" stroke-width="1.7"/>
<line x1="1633.20" y1="139.05" x2="1633.20" y2="130.50" stroke="#000" stroke-width="1.7"/>
<text x="1633.20" y="125.40" font-size="17.6" text-anchor="middle">0</text>
<line x1="1662.03" y1="139.05" x2="1662.03" y2="130.50" stroke="#000" stroke-width="1.7"/>
<text x="1662.03" y="125.40" font-size="17.6" text-anchor="middle">20</text>
<line x1="1690.86" y1="139.05" x2="1690.86" y2="130.50" stroke="#000" stroke-width="1.7"/>
<text x="1690.86" y="125.40" font-size="17.6" text-anchor="middle">40</text>
<line x1="1719.69" y1="139.05" x2="1719.69" y2="130.50" stroke="#000" stroke-width="1.7"/>
<text x="1719.69" y="125.40" font-size="17.6" text-anchor="middle">60</text>
<line x1="1748.52" y1="139.05" x2="1748.52" y2="130.50" stroke="#000" stroke-width="1.7"/>
<text x="1748.52" y="125.40" font-size="17.6" text-anchor="middle">80</text>
<text x="1779.60" y="404.80" font-size="23.2" font-weight="bold">Alterations</text>
<text x="1915.70" y="404.80" font-size="23.2" font-weight="bold">Risk</text>
<rect x="1781.30" y="419.40" width="22.60" height="22.60" fill="#000"/>
<text x="1813.00" y="438.90" font-size="23">Mutant</text>
<rect x="1916.70" y="419.40" width="24.00" height="23.40" fill="#98fb98"/>
<rect x="1916.70" y="445.40" width="24.00" height="23.60" fill="#f63412"/>
<text x="1949.30" y="438.90" font-size="23">High</text>
<text x="1949.30" y="465.20" font-size="23">Low</text>
<text x="1779.60" y="488.10" font-size="23.2" font-weight="bold">Alterations</text>
<rect x="1781.30" y="502.80" width="22.60" height="22.60" fill="#000"/>
<text x="1813.00" y="522.70" font-size="23">Mutant</text>
<text transform="translate(5.10 962.90) scale(0.965 1)" font-size="57">C</text>
<text x="222.50" y="931.90" font-size="25.2">Risk</text>
<line x1="302.75" y1="908.00" x2="302.75" y2="937.60" stroke="#000" stroke-width="2.9"/>
<rect x="288.65" y="913.15" width="28.2" height="18.8" fill="#85badc" stroke="#000" stroke-width="2.9"/>
<line x1="288.65" y1="922.55" x2="316.85" y2="922.55" stroke="#000" stroke-width="2.9"/>
<text x="334.60" y="930.20" font-size="21.4">High</text>
<line x1="409.95" y1="908.00" x2="409.95" y2="937.60" stroke="#000" stroke-width="2.9"/>
<rect x="395.85" y="913.15" width="28.2" height="18.8" fill="#f4c698" stroke="#000" stroke-width="2.9"/>
<line x1="395.85" y1="922.55" x2="424.05" y2="922.55" stroke="#000" stroke-width="2.9"/>
<text x="441.80" y="930.20" font-size="21.4">Low</text>
<line x1="109.90" y1="980.20" x2="109.90" y2="1573.65" stroke="#000" stroke-width="2.9"/>
<line x1="108.45" y1="1572.20" x2="592.60" y2="1572.20" stroke="#000" stroke-width="2.9"/>
<line x1="103.20" y1="1545.00" x2="109.90" y2="1545.00" stroke="#000" stroke-width="2.9"/>
<text x="97.70" y="1553.70" font-size="24.4" text-anchor="end">0</text>
<line x1="103.20" y1="1413.80" x2="109.90" y2="1413.80" stroke="#000" stroke-width="2.9"/>
<text x="97.70" y="1422.50" font-size="24.4" text-anchor="end">20</text>
<line x1="103.20" y1="1282.60" x2="109.90" y2="1282.60" stroke="#000" stroke-width="2.9"/>
<text x="97.70" y="1291.30" font-size="24.4" text-anchor="end">40</text>
<line x1="103.20" y1="1151.40" x2="109.90" y2="1151.40" stroke="#000" stroke-width="2.9"/>
<text x="97.70" y="1160.10" font-size="24.4" text-anchor="end">60</text>
<line x1="103.20" y1="1020.20" x2="109.90" y2="1020.20" stroke="#000" stroke-width="2.9"/>
<text x="97.70" y="1028.90" font-size="24.4" text-anchor="end">80</text>
<line x1="241.60" y1="1572.20" x2="241.60" y2="1579.00" stroke="#000" stroke-width="2.9"/>
<text x="241.60" y="1601.90" font-size="24.8" text-anchor="middle">High</text>
<line x1="460.80" y1="1572.20" x2="460.80" y2="1579.00" stroke="#000" stroke-width="2.9"/>
<text x="460.80" y="1601.90" font-size="24.8" text-anchor="middle">Low</text>
<text x="57.70" y="1275.20" font-size="25.75" text-anchor="middle" transform="rotate(-90 57.70 1275.20)">Homologous Recombination Defects</text>
<path d="M241.60 1022.40V1006.90H460.80V1022.40" fill="none" stroke="#000" stroke-width="1.55"/>
<text x="351.20" y="997.60" font-size="22.7" text-anchor="middle">****</text>
<line x1="241.60" y1="1085.80" x2="241.60" y2="1283.26" stroke="#000" stroke-width="2.9"/>
<line x1="241.60" y1="1420.36" x2="241.60" y2="1518.76" stroke="#000" stroke-width="2.9"/>
<rect x="164.88" y="1283.26" width="153.44" height="137.10" fill="#85badc" stroke="#000" stroke-width="2.9"/>
<line x1="164.88" y1="1361.32" x2="318.32" y2="1361.32" stroke="#000" stroke-width="5.8"/>
<line x1="460.80" y1="1210.44" x2="460.80" y2="1354.10" stroke="#000" stroke-width="2.9"/>
<line x1="460.80" y1="1472.84" x2="460.80" y2="1545.00" stroke="#000" stroke-width="2.9"/>
<rect x="384.08" y="1354.10" width="153.44" height="118.74" fill="#f4c698" stroke="#000" stroke-width="2.9"/>
<line x1="384.08" y1="1420.36" x2="537.52" y2="1420.36" stroke="#000" stroke-width="5.8"/>
<text transform="translate(579.60 961.20) scale(0.965 1)" font-size="57">D</text>
<text x="812.80" y="931.90" font-size="25.2">Risk</text>
<line x1="893.05" y1="908.00" x2="893.05" y2="937.60" stroke="#000" stroke-width="2.9"/>
<rect x="878.95" y="913.15" width="28.2" height="18.8" fill="#85badc" stroke="#000" stroke-width="2.9"/>
<line x1="878.95" y1="922.55" x2="907.15" y2="922.55" stroke="#000" stroke-width="2.9"/>
<text x="924.90" y="930.20" font-size="21.4">High</text>
<line x1="1000.25" y1="908.00" x2="1000.25" y2="937.60" stroke="#000" stroke-width="2.9"/>
<rect x="986.15" y="913.15" width="28.2" height="18.8" fill="#f4c698" stroke="#000" stroke-width="2.9"/>
<line x1="986.15" y1="922.55" x2="1014.35" y2="922.55" stroke="#000" stroke-width="2.9"/>
<text x="1032.10" y="930.20" font-size="21.4">Low</text>
<line x1="711.00" y1="980.20" x2="711.00" y2="1573.65" stroke="#000" stroke-width="2.9"/>
<line x1="709.55" y1="1572.20" x2="1172.20" y2="1572.20" stroke="#000" stroke-width="2.9"/>
<line x1="704.30" y1="1545.00" x2="711.00" y2="1545.00" stroke="#000" stroke-width="2.9"/>
<text x="698.80" y="1553.70" font-size="24.4" text-anchor="end">0.00</text>
<line x1="704.30" y1="1416.00" x2="711.00" y2="1416.00" stroke="#000" stroke-width="2.9"/>
<text x="698.80" y="1424.70" font-size="24.4" text-anchor="end">0.25</text>
<line x1="704.30" y1="1287.00" x2="711.00" y2="1287.00" stroke="#000" stroke-width="2.9"/>
<text x="698.80" y="1295.70" font-size="24.4" text-anchor="end">0.50</text>
<line x1="704.30" y1="1158.00" x2="711.00" y2="1158.00" stroke="#000" stroke-width="2.9"/>
<text x="698.80" y="1166.70" font-size="24.4" text-anchor="end">0.75</text>
<line x1="704.30" y1="1029.00" x2="711.00" y2="1029.00" stroke="#000" stroke-width="2.9"/>
<text x="698.80" y="1037.70" font-size="24.4" text-anchor="end">1.00</text>
<line x1="836.40" y1="1572.20" x2="836.40" y2="1579.00" stroke="#000" stroke-width="2.9"/>
<text x="836.40" y="1601.90" font-size="24.8" text-anchor="middle">High</text>
<line x1="1046.30" y1="1572.20" x2="1046.30" y2="1579.00" stroke="#000" stroke-width="2.9"/>
<text x="1046.30" y="1601.90" font-size="24.8" text-anchor="middle">Low</text>
<text x="637.00" y="1275.20" font-size="25.75" text-anchor="middle" transform="rotate(-90 637.00 1275.20)">Fraction Altered</text>
<path d="M836.40 1022.40V1006.90H1046.30V1022.40" fill="none" stroke="#000" stroke-width="1.55"/>
<text x="941.35" y="997.60" font-size="22.7" text-anchor="middle">****</text>
<line x1="836.40" y1="1031.58" x2="836.40" y2="1171.67" stroke="#000" stroke-width="2.9"/>
<line x1="836.40" y1="1354.85" x2="836.40" y2="1542.42" stroke="#000" stroke-width="2.9"/>
<rect x="762.93" y="1171.67" width="146.93" height="183.18" fill="#85badc" stroke="#000" stroke-width="2.9"/>
<line x1="762.93" y1="1244.17" x2="909.87" y2="1244.17" stroke="#000" stroke-width="5.8"/>
<line x1="1046.30" y1="1055.83" x2="1046.30" y2="1231.27" stroke="#000" stroke-width="2.9"/>
<line x1="1046.30" y1="1448.51" x2="1046.30" y2="1545.00" stroke="#000" stroke-width="2.9"/>
<rect x="972.83" y="1231.27" width="146.93" height="217.24" fill="#f4c698" stroke="#000" stroke-width="2.9"/>
<line x1="972.83" y1="1330.34" x2="1119.76" y2="1330.34" stroke="#000" stroke-width="5.8"/>
<text transform="translate(1178.60 953.30) scale(0.965 1)" font-size="57">E</text>
<text x="1395.90" y="931.90" font-size="25.2">Risk</text>
<line x1="1476.15" y1="908.00" x2="1476.15" y2="937.60" stroke="#000" stroke-width="2.9"/>
<rect x="1462.05" y="913.15" width="28.2" height="18.8" fill="#85badc" stroke="#000" stroke-width="2.9"/>
<line x1="1462.05" y1="922.55" x2="1490.25" y2="922.55" stroke="#000" stroke-width="2.9"/>
<text x="1508.00" y="930.20" font-size="21.4">High</text>
<line x1="1583.35" y1="908.00" x2="1583.35" y2="937.60" stroke="#000" stroke-width="2.9"/>
<rect x="1569.25" y="913.15" width="28.2" height="18.8" fill="#f4c698" stroke="#000" stroke-width="2.9"/>
<line x1="1569.25" y1="922.55" x2="1597.45" y2="922.55" stroke="#000" stroke-width="2.9"/>
<text x="1615.20" y="930.20" font-size="21.4">Low</text>
<line x1="1297.90" y1="980.20" x2="1297.90" y2="1573.65" stroke="#000" stroke-width="2.9"/>
<line x1="1296.45" y1="1572.20" x2="1752.00" y2="1572.20" stroke="#000" stroke-width="2.9"/>
<line x1="1291.20" y1="1557.40" x2="1297.90" y2="1557.40" stroke="#000" stroke-width="2.9"/>
<text x="1285.70" y="1566.10" font-size="24.4" text-anchor="end">0</text>
<line x1="1291.20" y1="1422.78" x2="1297.90" y2="1422.78" stroke="#000" stroke-width="2.9"/>
<text x="1285.70" y="1431.48" font-size="24.4" text-anchor="end">250</text>
<line x1="1291.20" y1="1288.15" x2="1297.90" y2="1288.15" stroke="#000" stroke-width="2.9"/>
<text x="1285.70" y="1296.85" font-size="24.4" text-anchor="end">500</text>
<line x1="1291.20" y1="1153.53" x2="1297.90" y2="1153.53" stroke="#000" stroke-width="2.9"/>
<text x="1285.70" y="1162.23" font-size="24.4" text-anchor="end">750</text>
<line x1="1291.20" y1="1018.90" x2="1297.90" y2="1018.90" stroke="#000" stroke-width="2.9"/>
<text x="1285.70" y="1027.60" font-size="24.4" text-anchor="end">1000</text>
<line x1="1420.50" y1="1572.20" x2="1420.50" y2="1579.00" stroke="#000" stroke-width="2.9"/>
<text x="1420.50" y="1601.90" font-size="24.8" text-anchor="middle">High</text>
<line x1="1628.00" y1="1572.20" x2="1628.00" y2="1579.00" stroke="#000" stroke-width="2.9"/>
<text x="1628.00" y="1601.90" font-size="24.8" text-anchor="middle">Low</text>
<text x="1216.50" y="1275.20" font-size="25.75" text-anchor="middle" transform="rotate(-90 1216.50 1275.20)">Number of Segments</text>
<path d="M1420.50 1022.40V1006.90H1628.00V1022.40" fill="none" stroke="#000" stroke-width="1.55"/>
<text x="1524.25" y="997.60" font-size="22.7" text-anchor="middle">****</text>
<line x1="1420.50" y1="1327.46" x2="1420.50" y2="1432.90" stroke="#000" stroke-width="2.9"/>
<line x1="1420.50" y1="1504.41" x2="1420.50" y2="1538.01" stroke="#000" stroke-width="2.9"/>
<rect x="1347.88" y="1432.90" width="145.25" height="71.51" fill="#85badc" stroke="#000" stroke-width="2.9"/>
<line x1="1347.88" y1="1482.98" x2="1493.12" y2="1482.98" stroke="#000" stroke-width="5.8"/>
<line x1="1628.00" y1="1395.53" x2="1628.00" y2="1468.82" stroke="#000" stroke-width="2.9"/>
<line x1="1628.00" y1="1519.00" x2="1628.00" y2="1544.91" stroke="#000" stroke-width="2.9"/>
<rect x="1555.38" y="1468.82" width="145.25" height="50.19" fill="#f4c698" stroke="#000" stroke-width="2.9"/>
<line x1="1555.38" y1="1499.89" x2="1700.62" y2="1499.89" stroke="#000" stroke-width="5.8"/>
<text transform="translate(7.60 1689.40) scale(0.965 1)" font-size="57">F</text>
<text x="222.50" y="1703.90" font-size="25.2">Risk</text>
<line x1="302.75" y1="1680.00" x2="302.75" y2="1709.60" stroke="#000" stroke-width="2.9"/>
<rect x="288.65" y="1685.15" width="28.2" height="18.8" fill="#85badc" stroke="#000" stroke-width="2.9"/>
<line x1="288.65" y1="1694.55" x2="316.85" y2="1694.55" stroke="#000" stroke-width="2.9"/>
<text x="334.60" y="1702.20" font-size="21.4">High</text>
<line x1="409.95" y1="1680.00" x2="409.95" y2="1709.60" stroke="#000" stroke-width="2.9"/>
<rect x="395.85" y="1685.15" width="28.2" height="18.8" fill="#f4c698" stroke="#000" stroke-width="2.9"/>
<line x1="395.85" y1="1694.55" x2="424.05" y2="1694.55" stroke="#000" stroke-width="2.9"/>
<text x="441.80" y="1702.20" font-size="21.4">Low</text>
<line x1="109.90" y1="1752.20" x2="109.90" y2="2345.65" stroke="#000" stroke-width="2.9"/>
<line x1="108.45" y1="2344.20" x2="592.60" y2="2344.20" stroke="#000" stroke-width="2.9"/>
<line x1="103.20" y1="2318.10" x2="109.90" y2="2318.10" stroke="#000" stroke-width="2.9"/>
<text x="97.70" y="2326.80" font-size="24.4" text-anchor="end">0</text>
<line x1="103.20" y1="2201.50" x2="109.90" y2="2201.50" stroke="#000" stroke-width="2.9"/>
<text x="97.70" y="2210.20" font-size="24.4" text-anchor="end">10</text>
<line x1="103.20" y1="2084.90" x2="109.90" y2="2084.90" stroke="#000" stroke-width="2.9"/>
<text x="97.70" y="2093.60" font-size="24.4" text-anchor="end">20</text>
<line x1="103.20" y1="1968.30" x2="109.90" y2="1968.30" stroke="#000" stroke-width="2.9"/>
<text x="97.70" y="1977.00" font-size="24.4" text-anchor="end">30</text>
<line x1="103.20" y1="1851.70" x2="109.90" y2="1851.70" stroke="#000" stroke-width="2.9"/>
<text x="97.70" y="1860.40" font-size="24.4" text-anchor="end">40</text>
<line x1="241.60" y1="2344.20" x2="241.60" y2="2351.00" stroke="#000" stroke-width="2.9"/>
<text x="241.60" y="2373.90" font-size="24.8" text-anchor="middle">High</text>
<line x1="460.80" y1="2344.20" x2="460.80" y2="2351.00" stroke="#000" stroke-width="2.9"/>
<text x="460.80" y="2373.90" font-size="24.8" text-anchor="middle">Low</text>
<text x="57.70" y="2047.20" font-size="25.75" text-anchor="middle" transform="rotate(-90 57.70 2047.20)">Tumor mutation burden</text>
<path d="M241.60 1794.40V1778.90H460.80V1794.40" fill="none" stroke="#000" stroke-width="1.55"/>
<text x="351.20" y="1769.60" font-size="22.7" text-anchor="middle">****</text>
<line x1="241.60" y1="1993.37" x2="241.60" y2="2165.35" stroke="#000" stroke-width="2.9"/>
<line x1="241.60" y1="2280.79" x2="241.60" y2="2318.10" stroke="#000" stroke-width="2.9"/>
<rect x="164.88" y="2165.35" width="153.44" height="115.43" fill="#85badc" stroke="#000" stroke-width="2.9"/>
<line x1="164.88" y1="2234.15" x2="318.32" y2="2234.15" stroke="#000" stroke-width="5.8"/>
<line x1="460.80" y1="2149.03" x2="460.80" y2="2234.73" stroke="#000" stroke-width="2.9"/>
<line x1="460.80" y1="2301.19" x2="460.80" y2="2318.10" stroke="#000" stroke-width="2.9"/>
<rect x="384.08" y="2234.73" width="153.44" height="66.46" fill="#f4c698" stroke="#000" stroke-width="2.9"/>
<line x1="384.08" y1="2277.29" x2="537.52" y2="2277.29" stroke="#000" stroke-width="5.8"/>
<text transform="translate(591.70 1685.60) scale(0.965 1)" font-size="57">G</text>
<line x1="739.70" y1="1712.40" x2="739.70" y2="2332.10" stroke="#000" stroke-width="1.8"/>
<line x1="723.40" y1="2331.20" x2="739.70" y2="2331.20" stroke="#000" stroke-width="1.8"/>
<text x="705.60" y="2341.90" font-size="30" text-anchor="end" font-weight="bold">0</text>
<line x1="723.40" y1="2207.60" x2="739.70" y2="2207.60" stroke="#000" stroke-width="1.8"/>
<text x="705.60" y="2218.30" font-size="30" text-anchor="end" font-weight="bold">2</text>
<line x1="723.40" y1="2084.00" x2="739.70" y2="2084.00" stroke="#000" stroke-width="1.8"/>
<text x="705.60" y="2094.70" font-size="30" text-anchor="end" font-weight="bold">4</text>
<line x1="723.40" y1="1960.40" x2="739.70" y2="1960.40" stroke="#000" stroke-width="1.8"/>
<text x="705.60" y="1971.10" font-size="30" text-anchor="end" font-weight="bold">6</text>
<line x1="723.40" y1="1836.80" x2="739.70" y2="1836.80" stroke="#000" stroke-width="1.8"/>
<text x="705.60" y="1847.50" font-size="30" text-anchor="end" font-weight="bold">8</text>
<line x1="723.40" y1="1713.20" x2="739.70" y2="1713.20" stroke="#000" stroke-width="1.8"/>
<text x="705.60" y="1723.90" font-size="30" text-anchor="end" font-weight="bold">10</text>
<text x="651.00" y="2010.00" font-size="33.8" text-anchor="middle" transform="rotate(-90 651.00 2010.00)">CNV.frequency(%)</text>
<rect x="783.60" y="1901.70" width="33.80" height="429.50" fill="#cccccc"/>
<rect x="866.35" y="1997.15" width="33.80" height="334.05" fill="#cccccc"/>
<rect x="949.10" y="1997.15" width="33.80" height="334.05" fill="#cccccc"/>
<rect x="1031.85" y="2021.01" width="33.80" height="310.19" fill="#cccccc"/>
<rect x="1114.60" y="2032.94" width="33.80" height="298.26" fill="#cccccc"/>
<rect x="1197.35" y="1913.63" width="33.80" height="417.57" fill="#cccccc"/>
<rect x="1280.10" y="2128.38" width="33.80" height="202.82" fill="#cccccc"/>
<rect x="1362.85" y="2152.24" width="33.80" height="178.96" fill="#cccccc"/>
<rect x="1445.60" y="2152.24" width="33.80" height="178.96" fill="#cccccc"/>
<rect x="1528.35" y="2009.08" width="33.80" height="322.12" fill="#cccccc"/>
<rect x="1611.10" y="1794.33" width="33.80" height="536.87" fill="#cccccc"/>
<rect x="1693.85" y="2068.73" width="33.80" height="262.47" fill="#cccccc"/>
<rect x="1776.60" y="2176.10" width="33.80" height="155.10" fill="#cccccc"/>
<rect x="1859.35" y="2104.52" width="33.80" height="226.68" fill="#cccccc"/>
<circle cx="800.50" cy="1901.70" r="12.6" fill="#df536b"/>
<circle cx="800.50" cy="2259.62" r="12.6" fill="#61d04f"/>
<text x="806.50" y="2351.00" font-size="26" text-anchor="end" transform="rotate(-45 806.50 2351.00)">CD40LG</text>
<circle cx="883.25" cy="1997.15" r="12.6" fill="#df536b"/>
<circle cx="883.25" cy="2188.03" r="12.6" fill="#61d04f"/>
<text x="889.25" y="2351.00" font-size="26" text-anchor="end" transform="rotate(-45 889.25 2351.00)">ZYX</text>
<circle cx="966.00" cy="1997.15" r="12.6" fill="#df536b"/>
<circle cx="966.00" cy="2247.69" r="12.6" fill="#61d04f"/>
<text x="972.00" y="2351.00" font-size="26" text-anchor="end" transform="rotate(-45 972.00 2351.00)">P2RY13</text>
<circle cx="1048.75" cy="2021.01" r="12.6" fill="#df536b"/>
<circle cx="1048.75" cy="2259.62" r="12.6" fill="#61d04f"/>
<text x="1054.75" y="2351.00" font-size="26" text-anchor="end" transform="rotate(-45 1054.75 2351.00)">CPA3</text>
<circle cx="1131.50" cy="2032.94" r="12.6" fill="#df536b"/>
<circle cx="1131.50" cy="2271.55" r="12.6" fill="#61d04f"/>
<text x="1137.50" y="2351.00" font-size="26" text-anchor="end" transform="rotate(-45 1137.50 2351.00)">TM6SF1</text>
<circle cx="1214.25" cy="2092.59" r="12.6" fill="#df536b"/>
<circle cx="1214.25" cy="1913.63" r="12.6" fill="#61d04f"/>
<text x="1220.25" y="2351.00" font-size="26" text-anchor="end" transform="rotate(-45 1220.25 2351.00)">KLRB1</text>
<circle cx="1297.00" cy="2128.38" r="12.6" fill="#df536b"/>
<circle cx="1297.00" cy="2271.55" r="12.6" fill="#61d04f"/>
<text x="1303.00" y="2351.00" font-size="26" text-anchor="end" transform="rotate(-45 1303.00 2351.00)">CYTIP</text>
<circle cx="1379.75" cy="2152.24" r="12.6" fill="#df536b"/>
<circle cx="1379.75" cy="2188.03" r="12.6" fill="#61d04f"/>
<text x="1385.75" y="2351.00" font-size="26" text-anchor="end" transform="rotate(-45 1385.75 2351.00)">DPEP2</text>
<circle cx="1462.50" cy="2152.24" r="12.6" fill="#df536b"/>
<circle cx="1462.50" cy="2199.96" r="12.6" fill="#61d04f"/>
<text x="1468.50" y="2351.00" font-size="26" text-anchor="end" transform="rotate(-45 1468.50 2351.00)">HMOX1</text>
<circle cx="1545.25" cy="2176.10" r="12.6" fill="#df536b"/>
<circle cx="1545.25" cy="2009.08" r="12.6" fill="#61d04f"/>
<text x="1551.25" y="2351.00" font-size="26" text-anchor="end" transform="rotate(-45 1551.25 2351.00)">GPR65</text>
<circle cx="1628.00" cy="2211.89" r="12.6" fill="#df536b"/>
<circle cx="1628.00" cy="1794.33" r="12.6" fill="#61d04f"/>
<text x="1634.00" y="2351.00" font-size="26" text-anchor="end" transform="rotate(-45 1634.00 2351.00)">GBP1</text>
<circle cx="1710.75" cy="2247.69" r="12.6" fill="#df536b"/>
<circle cx="1710.75" cy="2068.73" r="12.6" fill="#61d04f"/>
<text x="1716.75" y="2351.00" font-size="26" text-anchor="end" transform="rotate(-45 1716.75 2351.00)">CLEC10A</text>
<circle cx="1793.50" cy="2259.62" r="12.6" fill="#df536b"/>
<circle cx="1793.50" cy="2176.10" r="12.6" fill="#61d04f"/>
<text x="1799.50" y="2351.00" font-size="26" text-anchor="end" transform="rotate(-45 1799.50 2351.00)">FGD3</text>
<circle cx="1876.25" cy="2283.48" r="12.6" fill="#df536b"/>
<circle cx="1876.25" cy="2104.52" r="12.6" fill="#61d04f"/>
<text x="1882.25" y="2351.00" font-size="26" text-anchor="end" transform="rotate(-45 1882.25 2351.00)">PPM1M</text>
<circle cx="1143.2" cy="1750" r="9.3" fill="#df536b"/>
<text x="1191.20" y="1767.90" font-size="50.3">GAIN</text>
<circle cx="1373.3" cy="1750" r="9.3" fill="#61d04f"/>
<text x="1422.20" y="1767.90" font-size="50.3">LOSS</text>
</svg>
</body></html>
